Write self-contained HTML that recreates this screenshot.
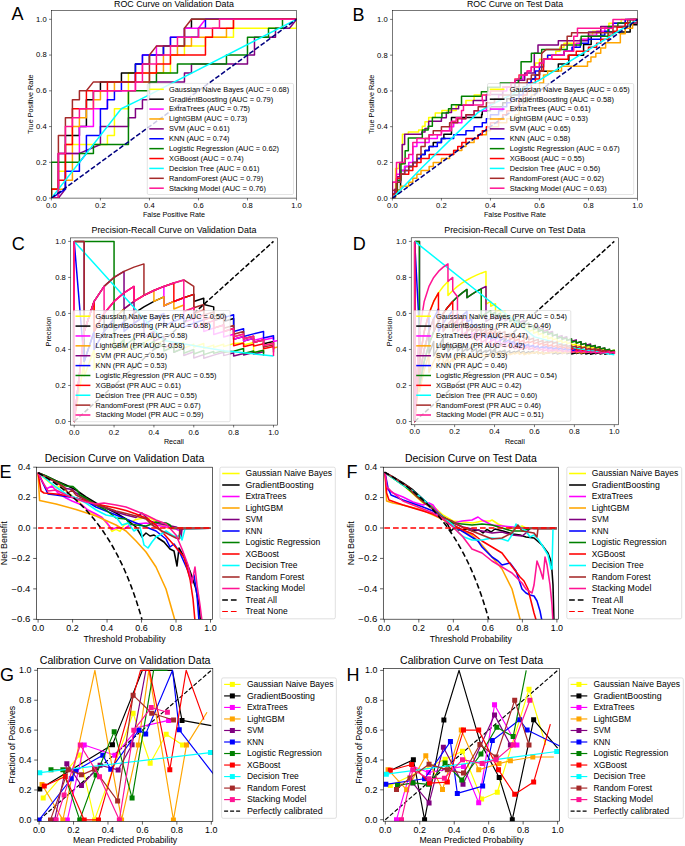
<!DOCTYPE html>
<html><head><meta charset="utf-8"><style>
html,body{margin:0;padding:0;background:#fff;}
svg{display:block;}
text{font-family:"Liberation Sans",sans-serif;}
</style></head><body>
<svg width="685" height="846" viewBox="0 0 685 846" font-family="Liberation Sans, sans-serif">
<rect width="685" height="846" fill="#fff"/>
<defs>
<clipPath id="cA"><rect x="51.4" y="10.4" width="245.1" height="187.7"/></clipPath>
<clipPath id="cB"><rect x="392.4" y="10.6" width="245.1" height="187.6"/></clipPath>
<clipPath id="cC"><rect x="70.5" y="237.9" width="206.8" height="187.2"/></clipPath>
<clipPath id="cD"><rect x="411.2" y="237.8" width="207.3" height="187"/></clipPath>
<clipPath id="cE"><rect x="36.5" y="467.2" width="176" height="152.1"/></clipPath>
<clipPath id="cF"><rect x="383.3" y="467.2" width="175.1" height="152"/></clipPath>
<clipPath id="cG"><rect x="37.5" y="668.3" width="175.3" height="153"/></clipPath>
<clipPath id="cH"><rect x="383.5" y="668.4" width="176.1" height="152.8"/></clipPath>
</defs>
<g clip-path="url(#cA)">
<polyline points="51.4,198.1 51.4,189.16 58.4,189.16 58.4,171.28 65.41,171.28 65.41,144.46 107.42,144.46 107.42,135.52 114.43,135.52 114.43,108.7 128.43,108.7 128.43,72.94 170.45,72.94 170.45,55.06 184.45,55.06 184.45,46.12 205.46,46.12 205.46,37.18 233.47,37.18 233.47,28.24 296.5,28.24 296.5,19.3" fill="none" stroke="#ffff00" stroke-width="1.5" stroke-linejoin="round"/>
<polyline points="51.4,198.1 51.4,189.16 58.4,189.16 58.4,153.4 65.41,153.4 65.41,135.52 79.41,135.52 79.41,126.58 86.41,126.58 86.41,99.76 93.42,99.76 93.42,90.82 100.42,90.82 100.42,81.88 121.43,81.88 121.43,72.94 135.43,72.94 135.43,64 149.44,64 149.44,55.06 163.45,55.06 163.45,46.12 184.45,46.12 184.45,28.24 191.46,28.24 191.46,19.3 296.5,19.3" fill="none" stroke="#000000" stroke-width="1.5" stroke-linejoin="round"/>
<polyline points="51.4,198.1 58.4,198.1 58.4,153.4 79.41,153.4 79.41,126.58 93.42,126.58 93.42,108.7 107.42,108.7 107.42,90.82 135.43,90.82 135.43,72.94 142.44,72.94 142.44,55.06 156.44,55.06 156.44,46.12 170.45,46.12 170.45,37.18 184.45,37.18 184.45,28.24 198.46,28.24 205.46,19.3 296.5,19.3" fill="none" stroke="#ff00ff" stroke-width="1.5" stroke-linejoin="round"/>
<polyline points="51.4,198.1 51.4,189.16 65.41,189.16 65.41,180.22 72.41,180.22 72.41,126.58 79.41,126.58 79.41,117.64 86.41,117.64 86.41,108.7 93.42,108.7 93.42,99.76 100.42,99.76 100.42,90.82 114.43,90.82 114.43,81.88 149.44,81.88 149.44,72.94 163.45,72.94 163.45,55.06 177.45,55.06 177.45,46.12 191.46,46.12 191.46,37.18 226.47,37.18 226.47,28.24 233.47,28.24 233.47,19.3 296.5,19.3" fill="none" stroke="#ffa500" stroke-width="1.5" stroke-linejoin="round"/>
<polyline points="51.4,198.1 58.4,198.1 65.41,189.16 65.41,153.4 79.41,153.4 100.42,144.46 100.42,126.58 128.43,126.58 128.43,117.64 135.43,117.64 135.43,108.7 142.44,108.7 142.44,99.76 149.44,99.76 149.44,81.88 184.45,81.88 184.45,72.94 191.46,72.94 191.46,64 247.48,64 247.48,55.06 254.48,55.06 254.48,37.18 275.49,37.18 275.49,28.24 289.5,28.24 296.5,19.3" fill="none" stroke="#800080" stroke-width="1.5" stroke-linejoin="round"/>
<polyline points="51.4,198.1 65.41,189.16 65.41,171.28 79.41,171.28 79.41,162.34 86.41,153.4 86.41,135.52 100.42,135.52 100.42,108.7 107.42,108.7 107.42,99.76 114.43,99.76 114.43,90.82 121.43,90.82 121.43,81.88 135.43,81.88 135.43,64 142.44,64 142.44,55.06 163.45,55.06 163.45,46.12 170.45,46.12 170.45,37.18 198.46,37.18 198.46,28.24 205.46,28.24 205.46,19.3 296.5,19.3" fill="none" stroke="#0000ff" stroke-width="1.5" stroke-linejoin="round"/>
<polyline points="51.4,198.1 51.4,162.34 79.41,162.34 79.41,153.4 93.42,153.4 93.42,144.46 128.43,144.46 128.43,90.82 149.44,90.82 149.44,81.88 156.44,81.88 156.44,72.94 177.45,72.94 177.45,64 226.47,64 226.47,55.06 247.48,55.06 247.48,37.18 268.49,37.18 268.49,28.24 282.49,28.24 282.49,19.3 296.5,19.3" fill="none" stroke="#008000" stroke-width="1.5" stroke-linejoin="round"/>
<polyline points="51.4,198.1 51.4,189.16 58.4,189.16 58.4,180.22 65.41,180.22 65.41,144.46 72.41,144.46 72.41,108.7 86.41,108.7 86.41,90.82 107.42,90.82 107.42,81.88 135.43,81.88 135.43,72.94 156.44,72.94 156.44,64 170.45,64 170.45,55.06 205.46,55.06 205.46,37.18 212.47,37.18 212.47,28.24 233.47,28.24 233.47,19.3 296.5,19.3" fill="none" stroke="#ff0000" stroke-width="1.5" stroke-linejoin="round"/>
<polyline points="51.4,198.1 121.25,108.7 139.39,99.94 296.5,19.3" fill="none" stroke="#00ffff" stroke-width="1.5" stroke-linejoin="round"/>
<polyline points="51.4,198.1 58.4,198.1 58.4,135.52 65.41,135.52 65.41,117.64 72.41,117.64 72.41,99.76 79.41,99.76 79.41,90.82 86.41,90.82 93.42,81.88 149.44,81.88 149.44,55.06 156.44,46.12 184.45,46.12 184.45,28.24 191.46,19.3 296.5,19.3" fill="none" stroke="#a52a2a" stroke-width="1.5" stroke-linejoin="round"/>
<polyline points="51.4,198.1 58.4,198.1 58.4,153.4 65.41,153.4 65.41,126.58 72.41,126.58 72.41,117.64 79.41,117.64 79.41,108.7 93.42,108.7 93.42,90.82 135.43,90.82 135.43,81.88 142.44,81.88 142.44,64 156.44,64 156.44,55.06 170.45,55.06 170.45,46.12 177.45,46.12 177.45,37.18 198.46,37.18 198.46,28.24 219.47,28.24 219.47,19.3 296.5,19.3" fill="none" stroke="#ff1493" stroke-width="1.5" stroke-linejoin="round"/>
<polyline points="51.4,198.1 296.5,19.3" fill="none" stroke="#000080" stroke-width="1.5" stroke-linejoin="round" stroke-dasharray="4.9 2.1"/>
</g>
<rect x="51.4" y="10.4" width="245.1" height="187.7" fill="none" stroke="#000" stroke-width="0.53"/>
<path d="M51.4 198.1v2.33M100.42 198.1v2.33M149.44 198.1v2.33M198.46 198.1v2.33M247.48 198.1v2.33M296.5 198.1v2.33M51.4 198.1h-2.33M51.4 162.34h-2.33M51.4 126.58h-2.33M51.4 90.82h-2.33M51.4 55.06h-2.33M51.4 19.3h-2.33" stroke="#000" stroke-width="0.53" fill="none"/>
<text x="46.1" y="207.63" font-size="6.94" fill="#000" textLength="10.61" lengthAdjust="spacingAndGlyphs">0.0</text>
<text x="95.12" y="207.63" font-size="6.94" fill="#000" textLength="10.61" lengthAdjust="spacingAndGlyphs">0.2</text>
<text x="144.14" y="207.63" font-size="6.94" fill="#000" textLength="10.61" lengthAdjust="spacingAndGlyphs">0.4</text>
<text x="193.16" y="207.63" font-size="6.94" fill="#000" textLength="10.61" lengthAdjust="spacingAndGlyphs">0.6</text>
<text x="242.18" y="207.63" font-size="6.94" fill="#000" textLength="10.61" lengthAdjust="spacingAndGlyphs">0.8</text>
<text x="291.2" y="207.63" font-size="6.94" fill="#000" textLength="10.61" lengthAdjust="spacingAndGlyphs">1.0</text>
<text x="36.12" y="200.53" font-size="6.94" fill="#000" textLength="10.61" lengthAdjust="spacingAndGlyphs">0.0</text>
<text x="36.12" y="164.77" font-size="6.94" fill="#000" textLength="10.61" lengthAdjust="spacingAndGlyphs">0.2</text>
<text x="36.12" y="129.01" font-size="6.94" fill="#000" textLength="10.61" lengthAdjust="spacingAndGlyphs">0.4</text>
<text x="36.12" y="93.25" font-size="6.94" fill="#000" textLength="10.61" lengthAdjust="spacingAndGlyphs">0.6</text>
<text x="36.12" y="57.49" font-size="6.94" fill="#000" textLength="10.61" lengthAdjust="spacingAndGlyphs">0.8</text>
<text x="36.12" y="21.73" font-size="6.94" fill="#000" textLength="10.61" lengthAdjust="spacingAndGlyphs">1.0</text>
<text x="142.95" y="217.2" font-size="6.94" fill="#000" textLength="61.99" lengthAdjust="spacingAndGlyphs">False Positive Rate</text>
<text x="32.6" y="104.25" font-size="6.94" fill="#000" text-anchor="middle" textLength="59.41" lengthAdjust="spacingAndGlyphs" transform="rotate(-90 32.6 104.25)">True Positive Rate</text>
<text x="114.03" y="6.9" font-size="8.72" fill="#000" textLength="119.85" lengthAdjust="spacingAndGlyphs">ROC Curve on Validation Data</text>
<rect x="147.3" y="83.4" width="146.2" height="111.1" rx="1.33" fill="#fff" fill-opacity="0.8" stroke="#cccccc" stroke-width="0.53"/>
<path d="M149.3 89.3H163.8" stroke="#ffff00" stroke-width="1.5"/>
<text x="169" y="91.7" font-size="6.94" fill="#000" textLength="120.12" lengthAdjust="spacingAndGlyphs">Gaussian Naive Bayes (AUC = 0.68)</text>
<path d="M149.3 99.19H163.8" stroke="#000000" stroke-width="1.5"/>
<text x="169" y="101.59" font-size="6.94" fill="#000" textLength="104.28" lengthAdjust="spacingAndGlyphs">GradientBoosting (AUC = 0.79)</text>
<path d="M149.3 109.08H163.8" stroke="#ff00ff" stroke-width="1.5"/>
<text x="169" y="111.48" font-size="6.94" fill="#000" textLength="81.09" lengthAdjust="spacingAndGlyphs">ExtraTrees (AUC = 0.75)</text>
<path d="M149.3 118.97H163.8" stroke="#ffa500" stroke-width="1.5"/>
<text x="169" y="121.37" font-size="6.94" fill="#000" textLength="78.25" lengthAdjust="spacingAndGlyphs">LightGBM (AUC = 0.73)</text>
<path d="M149.3 128.86H163.8" stroke="#800080" stroke-width="1.5"/>
<text x="169" y="131.26" font-size="6.94" fill="#000" textLength="60.66" lengthAdjust="spacingAndGlyphs">SVM (AUC = 0.61)</text>
<path d="M149.3 138.75H163.8" stroke="#0000ff" stroke-width="1.5"/>
<text x="169" y="141.15" font-size="6.94" fill="#000" textLength="60.46" lengthAdjust="spacingAndGlyphs">KNN (AUC = 0.74)</text>
<path d="M149.3 148.64H163.8" stroke="#008000" stroke-width="1.5"/>
<text x="169" y="151.04" font-size="6.94" fill="#000" textLength="110.09" lengthAdjust="spacingAndGlyphs">Logistic Regression (AUC = 0.62)</text>
<path d="M149.3 158.53H163.8" stroke="#ff0000" stroke-width="1.5"/>
<text x="169" y="160.93" font-size="6.94" fill="#000" textLength="74.67" lengthAdjust="spacingAndGlyphs">XGBoost (AUC = 0.74)</text>
<path d="M149.3 168.42H163.8" stroke="#00ffff" stroke-width="1.5"/>
<text x="169" y="170.82" font-size="6.94" fill="#000" textLength="90.52" lengthAdjust="spacingAndGlyphs">Decision Tree (AUC = 0.61)</text>
<path d="M149.3 178.31H163.8" stroke="#a52a2a" stroke-width="1.5"/>
<text x="169" y="180.71" font-size="6.94" fill="#000" textLength="94.19" lengthAdjust="spacingAndGlyphs">RandomForest (AUC = 0.79)</text>
<path d="M149.3 188.2H163.8" stroke="#ff1493" stroke-width="1.5"/>
<text x="169" y="190.6" font-size="6.94" fill="#000" textLength="97.03" lengthAdjust="spacingAndGlyphs">Stacking Model (AUC = 0.76)</text>
<text x="11.6" y="19.9" font-size="18" fill="#000">A</text>
<g clip-path="url(#cB)">
<polyline points="392.4,198.2 395.59,198.2 395.59,168.52 399.02,168.52 399.02,164.23 402.45,164.23 402.45,134.19 408.33,134.19 408.33,132.04 418.63,132.04 418.63,129.9 422.3,129.9 422.3,126.14 425,126.14 425,121.85 428.67,121.85 428.67,117.56 435.29,117.56 435.29,113.09 441.91,113.09 441.91,110.59 456.13,110.59 456.13,105.22 465.93,105.22 465.93,100.58 473.28,100.58 474.1,100.58 474.1,98.87 474.1,94.89 490.44,94.89 490.44,90.92 502.69,90.92 502.69,86.95 510.87,86.95 510.87,82.97 514.95,82.97 514.95,79 519.03,79 519.03,75.03 527.21,75.03 527.21,71.05 531.29,71.05 531.29,67.08 535.38,67.08 535.38,63.11 539.46,63.11 539.46,59.13 547.63,59.13 547.63,55.16 555.8,55.16 555.8,51.19 559.88,51.19 559.88,47.21 563.97,47.21 563.97,43.24 580.31,43.24 580.31,39.27 588.48,39.27 588.48,35.29 592.57,35.29 592.57,31.32 600.74,31.32 600.74,27.35 608.9,27.35 608.9,23.37 621.16,23.37 621.16,19.4 637.5,19.4" fill="none" stroke="#ffff00" stroke-width="1.5" stroke-linejoin="round"/>
<polyline points="392.4,198.2 392.4,194.23 396.48,194.23 396.48,190.25 400.57,190.25 400.57,170.39 404.65,170.39 404.65,166.41 412.82,166.41 412.82,162.44 416.91,162.44 416.91,158.47 421,158.47 421,154.49 425.08,154.49 425.08,150.52 429.16,150.52 429.16,146.55 433.25,146.55 433.25,142.57 441.42,142.57 441.42,138.6 445.5,138.6 443.87,138.6 443.87,138.66 443.87,134.19 451.47,134.19 451.47,117.56 481.62,117.56 481.62,114.16 482.27,114.16 482.27,114.76 482.27,110.79 490.44,110.79 490.44,106.81 502.69,106.81 502.69,102.84 506.78,102.84 506.78,98.87 510.87,98.87 510.87,94.89 519.03,94.89 519.03,90.92 523.12,90.92 523.12,86.95 527.21,86.95 527.21,82.97 531.29,82.97 531.29,79 535.38,79 535.38,75.03 539.46,75.03 539.46,71.05 543.54,71.05 541.67,71.05 541.67,71.25 558.33,71.25 558.33,64.1 568.87,64.1 568.87,55.16 583.58,55.16 583.58,44.43 591.18,44.43 591.18,36.21 600.74,36.21 600.74,31.92 630.15,31.92 630.15,24.76 637.5,24.76 637.5,19.4" fill="none" stroke="#000000" stroke-width="1.5" stroke-linejoin="round"/>
<polyline points="392.4,198.2 392.4,182.31 396.48,182.31 396.48,174.36 400.57,174.36 400.57,170.39 404.65,170.39 404.65,166.41 408.74,166.41 408.74,162.44 412.82,162.44 412.82,146.55 416.91,146.55 416.91,142.57 429.16,142.57 429.16,138.6 437.33,138.6 437.33,134.63 441.42,134.63 441.42,130.65 449.59,130.65 449.59,126.68 453.67,126.68 453.67,122.71 461.84,122.71 461.84,118.73 465.93,118.73 465.93,114.76 474.1,114.76 474.1,110.79 486.36,110.79 486.36,106.81 490.44,106.81 490.44,102.84 494.52,102.84 494.52,98.87 498.61,98.87 498.61,94.89 502.69,94.89 502.69,90.92 506.78,90.92 506.78,86.95 510.87,86.95 510.87,82.97 519.03,82.97 519.03,79 523.12,79 523.12,75.03 527.21,75.03 527.21,71.05 531.29,71.05 531.29,67.08 539.46,67.08 539.46,63.11 543.54,63.11 543.54,59.13 551.72,59.13 551.72,55.16 563.97,55.16 563.97,51.19 572.14,51.19 572.14,47.21 576.23,47.21 576.23,43.24 580.31,43.24 580.31,39.27 588.48,39.27 588.48,35.29 596.65,35.29 596.65,31.32 604.82,31.32 604.82,27.35 612.99,27.35 612.99,23.37 625.25,23.37 625.25,19.4 637.5,19.4" fill="none" stroke="#ff00ff" stroke-width="1.5" stroke-linejoin="round"/>
<polyline points="392.4,198.2 392.4,194.23 396.48,194.23 396.48,190.25 400.57,190.25 400.57,186.28 408.74,186.28 408.74,182.31 412.82,182.31 412.82,178.33 416.91,178.33 416.91,174.36 421,174.36 421,170.39 429.16,170.39 429.16,166.41 433.25,166.41 433.25,162.44 441.42,162.44 441.42,158.47 449.59,158.47 449.59,154.49 453.67,154.49 453.67,150.52 461.84,150.52 461.84,146.55 465.93,146.55 465.93,142.57 474.1,142.57 474.1,138.6 478.18,138.6 478.18,134.63 486.36,134.63 486.36,130.65 490.44,130.65 490.44,126.68 498.61,126.68 498.61,122.71 506.78,122.71 506.78,118.73 514.95,118.73 514.95,114.76 519.03,114.76 519.03,110.79 523.12,110.79 523.12,102.84 527.21,102.84 527.21,98.87 531.29,98.87 531.29,94.89 535.38,94.89 535.38,90.92 539.46,90.92 539.46,82.97 543.54,82.97 543.54,75.03 547.63,75.03 547.63,71.05 559.88,71.05 561.52,71.05 561.52,69.46 561.52,66.25 587.5,66.25 587.5,61.78 590.93,61.78 590.93,56.95 595.83,56.95 595.83,53.37 600.74,53.37 600.74,48.01 605.64,48.01 605.64,42.64 620.34,42.64 620.34,33.7 625.25,33.7 625.25,28.34 632.6,28.34 632.6,22.98 637.5,22.98 637.5,19.4" fill="none" stroke="#ffa500" stroke-width="1.5" stroke-linejoin="round"/>
<polyline points="392.4,198.2 394.85,198.2 394.85,189.26 397.3,189.26 397.3,176.74 399.75,176.74 399.75,162.44 402.2,162.44 402.2,144.56 404.65,144.56 404.65,134.19 421.81,134.19 421.81,132.04 425,132.04 425,128.47 428.67,128.47 428.67,121.32 441.42,121.32 441.42,117.74 446.32,117.74 446.32,112.38 451.47,112.38 451.47,108.8 458.58,108.8 458.58,105.22 473.28,105.22 473.28,100.58 486.27,100.58 486.27,94.5 502.69,94.5 502.69,87.34 514.95,87.34 514.95,80.19 524.75,80.19 524.75,73.04 534.31,73.04 534.31,53.37 537.99,53.37 537.99,44.97 558.33,44.97 558.33,40.86 588.48,40.86 588.48,31.92 600.74,31.92 600.74,26.55 625.25,26.55 625.25,22.98 637.5,22.98 637.5,19.4" fill="none" stroke="#800080" stroke-width="1.5" stroke-linejoin="round"/>
<polyline points="392.4,198.2 392.4,194.23 396.48,194.23 396.48,182.31 400.57,182.31 400.57,174.36 404.65,174.36 404.65,170.39 408.74,170.39 408.74,166.41 412.82,166.41 412.82,162.44 416.91,162.44 416.91,158.47 421,158.47 421,154.49 425.08,154.49 425.08,150.52 429.16,150.52 429.16,146.55 437.33,146.55 437.33,142.57 441.42,142.57 441.42,138.6 453.67,138.6 453.67,134.63 465.93,134.63 465.93,130.65 474.1,130.65 474.1,126.68 482.27,126.68 482.27,122.71 486.36,122.71 486.36,118.73 490.44,118.73 490.44,114.76 498.61,114.76 498.61,110.79 502.69,110.79 502.69,106.81 506.78,106.81 506.78,102.84 510.87,102.84 510.87,98.87 519.03,98.87 519.03,94.89 523.12,94.89 523.12,90.92 527.21,90.92 527.21,82.97 531.29,82.97 531.29,79 535.38,79 535.38,71.05 539.46,71.05 539.46,67.08 543.54,67.08 543.54,59.13 547.63,59.13 547.63,55.16 563.97,55.16 563.97,51.19 572.14,51.19 572.14,47.21 580.31,47.21 580.31,43.24 588.48,43.24 588.48,39.27 600.74,39.27 600.74,35.29 604.82,35.29 604.82,31.32 608.9,31.32 608.9,27.35 612.99,27.35 612.99,23.37 625.25,23.37 625.25,19.4 637.5,19.4" fill="none" stroke="#0000ff" stroke-width="1.5" stroke-linejoin="round"/>
<polyline points="392.4,198.2 392.4,194.27 397.3,194.27 397.3,180.32 400.98,180.32 400.98,163.69 405.15,163.69 405.15,150.82 408.33,150.82 408.33,137.94 422.3,137.94 422.3,129.9 428.18,129.9 428.18,126.14 432.35,126.14 432.35,117.56 441.91,117.56 441.91,113.09 448.53,113.09 448.53,108.8 451.47,108.8 451.47,104.69 461.52,104.69 461.52,96.28 481.37,96.28 481.37,91.81 487.99,91.81 487.99,87.34 500.24,87.34 500.24,83.05 518.38,83.05 518.38,78.58 521.08,78.58 521.08,61.78 531.37,61.78 531.37,53.37 541.67,53.37 541.67,49.44 567.16,49.44 567.16,44.97 581.13,44.97 581.13,36.21 608.09,36.21 608.09,26.55 617.89,26.55 617.89,22.98 630.15,22.98 630.15,19.4 637.5,19.4" fill="none" stroke="#008000" stroke-width="1.5" stroke-linejoin="round"/>
<polyline points="392.4,198.2 392.4,194.23 396.48,194.23 396.48,178.33 400.57,178.33 400.57,174.36 408.74,174.36 408.74,170.39 412.82,170.39 412.82,166.41 416.91,166.41 416.91,162.44 421,162.44 421,158.47 429.16,158.47 429.16,154.49 437.33,154.49 453.67,154.49 453.67,150.52 457.76,150.52 457.76,146.55 461.84,146.55 461.84,142.57 465.93,142.57 465.93,138.6 478.18,138.6 478.18,134.63 482.27,134.63 482.27,130.65 486.36,130.65 486.36,126.68 490.44,126.68 490.44,122.71 498.61,122.71 498.61,118.73 502.69,118.73 502.69,114.76 506.78,114.76 506.78,110.79 514.95,110.79 514.95,106.81 519.03,106.81 519.03,98.87 523.12,98.87 523.12,94.89 527.21,94.89 527.21,90.92 531.29,90.92 531.29,82.97 535.38,82.97 535.38,79 539.46,79 539.46,71.05 543.54,71.05 543.54,59.13 547.63,59.13 568.06,59.13 568.06,55.16 576.23,55.16 576.23,51.19 588.48,51.19 588.48,47.21 596.65,47.21 596.65,43.24 600.74,43.24 600.74,39.27 608.9,39.27 608.9,35.29 612.99,35.29 612.99,31.32 617.08,31.32 617.08,27.35 625.25,27.35 625.25,23.37 633.41,23.37 633.41,19.4 637.5,19.4" fill="none" stroke="#ff0000" stroke-width="1.5" stroke-linejoin="round"/>
<polyline points="392.4,198.2 421.81,167.8 478.18,112.38 490.44,105.22 539.46,80.19 637.5,19.4" fill="none" stroke="#00ffff" stroke-width="1.5" stroke-linejoin="round"/>
<polyline points="392.4,198.2 392.4,190.25 396.48,190.25 396.48,182.31 400.57,182.31 400.57,174.36 404.65,174.36 404.65,170.39 408.74,170.39 408.74,166.41 412.82,166.41 412.82,162.44 416.91,162.44 416.91,154.49 421,154.49 421,146.55 425.08,146.55 425.08,138.6 429.16,138.6 429.16,134.63 433.25,134.63 433.25,130.65 441.42,130.65 441.42,126.68 449.59,126.68 449.59,122.71 457.76,122.71 457.76,118.73 465.93,118.73 465.93,114.76 474.1,114.76 474.1,110.79 478.18,110.79 478.18,106.81 486.36,106.81 486.36,102.84 494.52,102.84 494.52,98.87 502.69,98.87 502.69,94.89 510.87,94.89 510.87,90.92 514.95,90.92 514.95,86.95 519.03,86.95 519.03,82.97 527.21,82.97 527.21,79 531.29,79 531.29,75.03 539.46,75.03 539.46,71.05 543.54,71.05 541.67,71.05 541.67,71.25 541.67,53.37 546.32,49.44 561.27,49.44 561.27,44.97 567.16,44.97 567.16,36.21 571.57,36.21 571.57,32.63 612.99,32.63 612.99,26.55 627.7,26.55 627.7,19.4 637.5,19.4" fill="none" stroke="#a52a2a" stroke-width="1.5" stroke-linejoin="round"/>
<polyline points="392.4,198.2 392.4,182.31 396.48,182.31 396.48,166.41 396.48,162.44 404.65,162.44 404.65,158.47 408.74,158.47 408.74,154.49 412.82,154.49 412.82,142.57 416.91,142.57 416.91,138.6 429.16,138.6 429.16,134.63 441.42,134.63 441.42,130.65 449.59,130.65 451.47,130.65 451.47,130.26 451.47,121.32 456.13,121.32 456.13,117.74 461.52,117.74 461.52,110.59 463.48,110.59 463.48,105.05 483.09,105.05 483.09,100.58 482.27,100.58 482.27,98.87 482.27,94.89 490.44,94.89 490.44,90.92 502.69,90.92 502.69,86.95 510.87,86.95 510.87,82.97 514.95,82.97 514.95,79 519.03,79 519.03,75.03 527.21,75.03 527.21,71.05 531.29,71.05 531.29,67.08 539.46,67.08 539.46,63.11 543.54,63.11 543.54,59.13 551.72,59.13 551.72,55.16 563.97,55.16 563.97,51.19 572.14,51.19 573.77,51.19 573.77,49.44 573.77,36.21 577.45,36.21 577.45,28.34 612.99,28.34 612.99,19.4 637.5,19.4" fill="none" stroke="#ff1493" stroke-width="1.5" stroke-linejoin="round"/>
<polyline points="392.4,198.2 637.5,19.4" fill="none" stroke="#000080" stroke-width="1.5" stroke-linejoin="round" stroke-dasharray="4.9 2.1"/>
</g>
<rect x="392.4" y="10.6" width="245.1" height="187.6" fill="none" stroke="#000" stroke-width="0.53"/>
<path d="M392.4 198.2v2.33M441.42 198.2v2.33M490.44 198.2v2.33M539.46 198.2v2.33M588.48 198.2v2.33M637.5 198.2v2.33M392.4 198.2h-2.33M392.4 162.44h-2.33M392.4 126.68h-2.33M392.4 90.92h-2.33M392.4 55.16h-2.33M392.4 19.4h-2.33" stroke="#000" stroke-width="0.53" fill="none"/>
<text x="387.1" y="207.73" font-size="6.94" fill="#000" textLength="10.61" lengthAdjust="spacingAndGlyphs">0.0</text>
<text x="436.12" y="207.73" font-size="6.94" fill="#000" textLength="10.61" lengthAdjust="spacingAndGlyphs">0.2</text>
<text x="485.14" y="207.73" font-size="6.94" fill="#000" textLength="10.61" lengthAdjust="spacingAndGlyphs">0.4</text>
<text x="534.16" y="207.73" font-size="6.94" fill="#000" textLength="10.61" lengthAdjust="spacingAndGlyphs">0.6</text>
<text x="583.18" y="207.73" font-size="6.94" fill="#000" textLength="10.61" lengthAdjust="spacingAndGlyphs">0.8</text>
<text x="632.2" y="207.73" font-size="6.94" fill="#000" textLength="10.61" lengthAdjust="spacingAndGlyphs">1.0</text>
<text x="377.12" y="200.63" font-size="6.94" fill="#000" textLength="10.61" lengthAdjust="spacingAndGlyphs">0.0</text>
<text x="377.12" y="164.87" font-size="6.94" fill="#000" textLength="10.61" lengthAdjust="spacingAndGlyphs">0.2</text>
<text x="377.12" y="129.11" font-size="6.94" fill="#000" textLength="10.61" lengthAdjust="spacingAndGlyphs">0.4</text>
<text x="377.12" y="93.35" font-size="6.94" fill="#000" textLength="10.61" lengthAdjust="spacingAndGlyphs">0.6</text>
<text x="377.12" y="57.59" font-size="6.94" fill="#000" textLength="10.61" lengthAdjust="spacingAndGlyphs">0.8</text>
<text x="377.12" y="21.83" font-size="6.94" fill="#000" textLength="10.61" lengthAdjust="spacingAndGlyphs">1.0</text>
<text x="483.95" y="217.3" font-size="6.94" fill="#000" textLength="61.99" lengthAdjust="spacingAndGlyphs">False Positive Rate</text>
<text x="373.6" y="104.4" font-size="6.94" fill="#000" text-anchor="middle" textLength="59.41" lengthAdjust="spacingAndGlyphs" transform="rotate(-90 373.6 104.4)">True Positive Rate</text>
<text x="466.91" y="6.9" font-size="8.72" fill="#000" textLength="96.08" lengthAdjust="spacingAndGlyphs">ROC Curve on Test Data</text>
<rect x="487.5" y="83.5" width="146.2" height="111" rx="1.33" fill="#fff" fill-opacity="0.8" stroke="#cccccc" stroke-width="0.53"/>
<path d="M489.8 89.3H504.5" stroke="#ffff00" stroke-width="1.5"/>
<text x="509.7" y="91.7" font-size="6.94" fill="#000" textLength="120.12" lengthAdjust="spacingAndGlyphs">Gaussian Naive Bayes (AUC = 0.65)</text>
<path d="M489.8 99.19H504.5" stroke="#000000" stroke-width="1.5"/>
<text x="509.7" y="101.59" font-size="6.94" fill="#000" textLength="104.28" lengthAdjust="spacingAndGlyphs">GradientBoosting (AUC = 0.58)</text>
<path d="M489.8 109.08H504.5" stroke="#ff00ff" stroke-width="1.5"/>
<text x="509.7" y="111.48" font-size="6.94" fill="#000" textLength="81.09" lengthAdjust="spacingAndGlyphs">ExtraTrees (AUC = 0.61)</text>
<path d="M489.8 118.97H504.5" stroke="#ffa500" stroke-width="1.5"/>
<text x="509.7" y="121.37" font-size="6.94" fill="#000" textLength="78.25" lengthAdjust="spacingAndGlyphs">LightGBM (AUC = 0.53)</text>
<path d="M489.8 128.86H504.5" stroke="#800080" stroke-width="1.5"/>
<text x="509.7" y="131.26" font-size="6.94" fill="#000" textLength="60.66" lengthAdjust="spacingAndGlyphs">SVM (AUC = 0.65)</text>
<path d="M489.8 138.75H504.5" stroke="#0000ff" stroke-width="1.5"/>
<text x="509.7" y="141.15" font-size="6.94" fill="#000" textLength="60.46" lengthAdjust="spacingAndGlyphs">KNN (AUC = 0.58)</text>
<path d="M489.8 148.64H504.5" stroke="#008000" stroke-width="1.5"/>
<text x="509.7" y="151.04" font-size="6.94" fill="#000" textLength="110.09" lengthAdjust="spacingAndGlyphs">Logistic Regression (AUC = 0.67)</text>
<path d="M489.8 158.53H504.5" stroke="#ff0000" stroke-width="1.5"/>
<text x="509.7" y="160.93" font-size="6.94" fill="#000" textLength="74.67" lengthAdjust="spacingAndGlyphs">XGBoost (AUC = 0.55)</text>
<path d="M489.8 168.42H504.5" stroke="#00ffff" stroke-width="1.5"/>
<text x="509.7" y="170.82" font-size="6.94" fill="#000" textLength="90.52" lengthAdjust="spacingAndGlyphs">Decision Tree (AUC = 0.56)</text>
<path d="M489.8 178.31H504.5" stroke="#a52a2a" stroke-width="1.5"/>
<text x="509.7" y="180.71" font-size="6.94" fill="#000" textLength="94.19" lengthAdjust="spacingAndGlyphs">RandomForest (AUC = 0.62)</text>
<path d="M489.8 188.2H504.5" stroke="#ff1493" stroke-width="1.5"/>
<text x="509.7" y="190.6" font-size="6.94" fill="#000" textLength="97.03" lengthAdjust="spacingAndGlyphs">Stacking Model (AUC = 0.63)</text>
<text x="352.6" y="20.8" font-size="18" fill="#000">B</text>
<g clip-path="url(#cC)">
<polyline points="74.2,241.4 74.2,421.5 74.2,421.5 84.17,361.47 84.17,376.48 94.13,349.46 94.13,361.47 94.13,370.04 104.09,353.96 114.06,341.46 114.06,349.46 124.03,339.64 124.03,346.46 124.03,352.23 133.99,344.31 133.99,349.46 143.95,342.71 153.92,336.75 153.92,341.46 153.92,345.67 163.88,340.45 163.88,344.31 163.88,347.82 173.85,343.2 173.85,346.46 183.81,342.26 183.81,345.3 183.81,348.13 193.78,344.31 193.78,346.98 203.75,343.46 203.75,345.97 203.75,348.33 213.71,345.09 213.71,347.34 223.68,344.31 223.68,346.46 233.64,343.62 243.61,342.99 243.61,344.96 253.57,342.43 253.57,344.31 253.57,346.11 253.57,347.82 253.57,349.46 253.57,351.03 253.57,352.53 263.54,350.21 263.54,351.67" fill="none" stroke="#ffff00" stroke-width="1.5" stroke-linejoin="round"/>
<polyline points="74.2,241.4 74.2,421.5 84.17,331.45 84.17,361.47 94.13,331.45 104.09,313.44 104.09,331.45 114.06,318.59 124.03,308.94 124.03,321.44 133.99,313.44 143.95,306.89 153.92,301.43 163.88,296.82 163.88,305.72 173.85,301.43 183.81,297.68 193.78,294.37 193.78,301.43 203.75,298.27 203.75,304.44 213.71,306.89 213.71,311.87 213.71,316.44 223.68,313.44 223.68,317.6 223.68,321.44 233.64,318.59 233.64,322.13 233.64,325.45 233.64,328.55 233.64,331.45 233.64,334.18 233.64,336.75 233.64,339.17 243.61,336.45 243.61,338.75 243.61,340.93 253.57,338.38 253.57,340.45 253.57,342.43 263.54,340.03 263.54,341.92 263.54,343.73 273.5,341.46 273.5,343.2 273.5,344.86" fill="none" stroke="#000000" stroke-width="1.5" stroke-linejoin="round"/>
<polyline points="74.2,241.4 74.2,421.5 84.17,331.45 94.13,301.43 94.13,331.45 104.09,313.44 114.06,301.43 124.03,292.86 133.99,286.43 133.99,301.43 143.95,295.43 153.92,290.52 163.88,286.43 163.88,296.82 163.88,305.72 173.85,301.43 183.81,297.68 183.81,304.96 183.81,311.44 183.81,317.23 183.81,322.44 193.78,318.59 193.78,323.26 193.78,327.53 203.75,323.95 203.75,327.85 203.75,331.45 213.71,328.11 213.71,331.45 213.71,334.56 223.68,331.45 223.68,334.35 223.68,337.08 233.64,334.18 233.64,336.75 233.64,339.17 243.61,336.45 243.61,338.75 243.61,340.93 253.57,338.38 253.57,340.45 263.54,338.04 263.54,340.03 273.5,337.73 273.5,339.64 273.5,341.46 283.47,339.28 283.47,341.03 283.47,342.71" fill="none" stroke="#ff00ff" stroke-width="1.5" stroke-linejoin="round"/>
<polyline points="74.2,241.4 74.2,421.5 84.17,331.45 94.13,301.43 94.13,331.45 94.13,349.46 104.09,331.45 114.06,318.59 124.03,308.94 133.99,301.43 143.95,295.43 153.92,290.52 153.92,301.43 163.88,296.82 163.88,305.72 173.85,301.43 173.85,308.94 183.81,304.96 183.81,311.44 193.78,307.75 193.78,313.44 193.78,318.59 203.75,315.08 203.75,319.7 203.75,323.95 213.71,320.64 213.71,324.52 213.71,328.11 223.68,325.02 223.68,328.34 223.68,331.45 233.64,328.55 233.64,331.45 233.64,334.18 233.64,336.75 243.61,334.02 243.61,336.45 243.61,338.75 253.57,336.19 253.57,338.38 253.57,340.45 253.57,342.43 263.54,340.03 263.54,341.92 263.54,343.73 263.54,345.46 273.5,343.2 273.5,344.86 273.5,346.46 273.5,347.99 283.47,345.86 283.47,347.34 283.47,348.77" fill="none" stroke="#ffa500" stroke-width="1.5" stroke-linejoin="round"/>
<polyline points="74.2,241.4 84.17,241.4 84.17,331.45 94.13,301.43 104.09,286.43 114.06,277.42 124.03,271.42 124.03,292.86 124.03,308.94 133.99,301.43 133.99,313.44 133.99,323.26 143.95,316.44 143.95,324.52 143.95,331.45 143.95,337.45 153.92,331.45 153.92,336.75 153.92,341.46 163.88,336.19 163.88,340.45 163.88,344.31 163.88,347.82 173.85,343.2 173.85,346.46 173.85,349.46 173.85,352.23 183.81,348.13 183.81,350.75 183.81,353.19 183.81,355.46 193.78,351.78 193.78,353.96 193.78,356.01 193.78,357.94 203.75,354.61 203.75,356.46 203.75,358.22 213.71,355.15 223.68,352.23 223.68,353.96 223.68,355.61 233.64,352.89 233.64,354.49 233.64,356.01 243.61,353.46 243.61,354.94 253.57,352.53 253.57,353.96 263.54,351.67 263.54,353.06" fill="none" stroke="#800080" stroke-width="1.5" stroke-linejoin="round"/>
<polyline points="74.2,241.4 84.17,361.47 94.13,331.45 94.13,349.46 104.09,331.45 114.06,318.59 114.06,331.45 124.03,321.44 124.03,331.45 133.99,323.26 143.95,316.44 143.95,324.52 153.92,318.59 163.88,313.44 163.88,320.19 163.88,326.15 173.85,321.44 183.81,317.23 183.81,322.44 183.81,327.16 193.78,323.26 203.75,319.7 213.71,316.44 213.71,320.64 223.68,317.6 233.64,314.77 233.64,318.59 233.64,322.13 233.64,325.45 233.64,328.55 233.64,331.45 243.61,328.72 243.61,331.45 243.61,334.02 243.61,336.45 253.57,333.88 263.54,331.45 263.54,333.76 263.54,335.95 263.54,338.04 273.5,335.74 273.5,337.73 273.5,339.64" fill="none" stroke="#0000ff" stroke-width="1.5" stroke-linejoin="round"/>
<polyline points="74.2,241.4 84.17,241.4 94.13,241.4 104.09,241.4 114.06,241.4 114.06,277.42 114.06,301.43 114.06,318.59 114.06,331.45 114.06,341.46 114.06,349.46 124.03,339.64 124.03,346.46 133.99,338.38 133.99,344.31 133.99,349.46 143.95,342.71 143.95,347.34 153.92,341.46 153.92,345.67 153.92,349.46 163.88,344.31 163.88,347.82 163.88,351.03 173.85,346.46 173.85,349.46 173.85,352.23 183.81,348.13 183.81,350.75 183.81,353.19 193.78,349.46 193.78,351.78 193.78,353.96 203.75,350.55 203.75,352.64 203.75,354.61 213.71,351.46 213.71,353.35 223.68,350.41 223.68,352.23 233.64,351.22 243.61,348.6 243.61,350.3 243.61,351.92 243.61,353.46 253.57,351.03 253.57,352.53 263.54,350.21 263.54,351.67 263.54,353.06 263.54,354.4 263.54,355.69" fill="none" stroke="#008000" stroke-width="1.5" stroke-linejoin="round"/>
<polyline points="74.2,241.4 74.2,421.5 84.17,331.45 94.13,301.43 94.13,331.45 104.09,313.44 114.06,301.43 124.03,292.86 133.99,286.43 133.99,301.43 143.95,295.43 153.92,290.52 163.88,286.43 173.85,282.96 173.85,292.86 173.85,301.43 183.81,297.68 193.78,294.37 193.78,301.43 193.78,307.75 193.78,313.44 203.75,310.01 203.75,315.08 203.75,319.7 213.71,316.44 213.71,320.64 213.71,324.52 213.71,328.11 223.68,325.02 223.68,328.34 223.68,331.45 233.64,328.55 233.64,331.45 233.64,334.18 233.64,336.75 233.64,339.17 233.64,341.46 233.64,343.62 233.64,345.67 243.61,342.99 243.61,344.96 243.61,346.82 253.57,344.31 253.57,346.11 263.54,343.73 263.54,345.46 263.54,347.11 263.54,348.69 273.5,346.46 273.5,347.99 273.5,349.46" fill="none" stroke="#ff0000" stroke-width="1.5" stroke-linejoin="round"/>
<polyline points="74.2,241.4 163.88,340.45 223.68,350.72 273.5,355.94" fill="none" stroke="#00ffff" stroke-width="1.5" stroke-linejoin="round"/>
<polyline points="74.2,241.4 84.17,241.4 84.17,331.45 94.13,301.43 104.09,286.43 114.06,277.42 124.03,271.42 133.99,267.13 143.95,263.91 143.95,281.42 143.95,295.43 153.92,290.52 163.88,286.43 173.85,282.96 183.81,279.99 193.78,286.43 193.78,294.37 193.78,301.43 193.78,307.75 203.75,304.44 203.75,310.01 203.75,315.08 213.71,311.87 213.71,316.44 213.71,320.64 223.68,317.6 223.68,321.44 223.68,325.02 223.68,328.34 233.64,325.45 233.64,328.55 233.64,331.45 233.64,334.18 243.61,331.45 243.61,334.02 243.61,336.45 243.61,338.75 253.57,336.19 253.57,338.38 253.57,340.45 253.57,342.43 263.54,340.03 263.54,341.92 263.54,343.73 263.54,345.46 263.54,347.11 273.5,344.86 273.5,346.46 273.5,347.99 273.5,349.46 273.5,350.87 273.5,352.23" fill="none" stroke="#a52a2a" stroke-width="1.5" stroke-linejoin="round"/>
<polyline points="74.2,241.4 74.2,421.5 84.17,331.45 94.13,301.43 104.09,286.43 104.09,313.44 114.06,301.43 124.03,292.86 133.99,286.43 133.99,301.43 143.95,295.43 153.92,290.52 163.88,286.43 173.85,282.96 183.81,279.99 183.81,289.43 183.81,297.68 183.81,304.96 183.81,311.44 193.78,307.75 193.78,313.44 193.78,318.59 203.75,315.08 203.75,319.7 203.75,323.95 213.71,320.64 213.71,324.52 213.71,328.11 223.68,325.02 223.68,328.34 223.68,331.45 233.64,328.55 233.64,331.45 233.64,334.18 233.64,336.75 243.61,334.02 243.61,336.45 243.61,338.75 253.57,336.19 253.57,338.38 253.57,340.45 253.57,342.43 263.54,340.03 263.54,341.92 263.54,343.73 263.54,345.46 273.5,343.2 273.5,344.86 273.5,346.46 273.5,347.99 273.5,349.46 273.5,350.87 273.5,352.23 273.5,353.54 273.5,354.8 273.5,356.01" fill="none" stroke="#ff1493" stroke-width="1.5" stroke-linejoin="round"/>
<polyline points="74.2,421.5 273.5,241.4" fill="none" stroke="#000" stroke-width="1.5" stroke-linejoin="round" stroke-dasharray="4.9 2.1"/>
</g>
<rect x="70.5" y="237.9" width="206.8" height="187.2" fill="none" stroke="#000" stroke-width="0.53"/>
<path d="M74.2 425.1v2.33M114.06 425.1v2.33M153.92 425.1v2.33M193.78 425.1v2.33M233.64 425.1v2.33M273.5 425.1v2.33M70.5 421.5h-2.33M70.5 385.48h-2.33M70.5 349.46h-2.33M70.5 313.44h-2.33M70.5 277.42h-2.33M70.5 241.4h-2.33" stroke="#000" stroke-width="0.53" fill="none"/>
<text x="68.9" y="434.63" font-size="6.94" fill="#000" textLength="10.61" lengthAdjust="spacingAndGlyphs">0.0</text>
<text x="108.76" y="434.63" font-size="6.94" fill="#000" textLength="10.61" lengthAdjust="spacingAndGlyphs">0.2</text>
<text x="148.62" y="434.63" font-size="6.94" fill="#000" textLength="10.61" lengthAdjust="spacingAndGlyphs">0.4</text>
<text x="188.48" y="434.63" font-size="6.94" fill="#000" textLength="10.61" lengthAdjust="spacingAndGlyphs">0.6</text>
<text x="228.34" y="434.63" font-size="6.94" fill="#000" textLength="10.61" lengthAdjust="spacingAndGlyphs">0.8</text>
<text x="268.2" y="434.63" font-size="6.94" fill="#000" textLength="10.61" lengthAdjust="spacingAndGlyphs">1.0</text>
<text x="55.22" y="423.93" font-size="6.94" fill="#000" textLength="10.61" lengthAdjust="spacingAndGlyphs">0.0</text>
<text x="55.22" y="387.91" font-size="6.94" fill="#000" textLength="10.61" lengthAdjust="spacingAndGlyphs">0.2</text>
<text x="55.22" y="351.89" font-size="6.94" fill="#000" textLength="10.61" lengthAdjust="spacingAndGlyphs">0.4</text>
<text x="55.22" y="315.87" font-size="6.94" fill="#000" textLength="10.61" lengthAdjust="spacingAndGlyphs">0.6</text>
<text x="55.22" y="279.85" font-size="6.94" fill="#000" textLength="10.61" lengthAdjust="spacingAndGlyphs">0.8</text>
<text x="55.22" y="243.83" font-size="6.94" fill="#000" textLength="10.61" lengthAdjust="spacingAndGlyphs">1.0</text>
<text x="163.95" y="444.3" font-size="6.94" fill="#000" textLength="19.9" lengthAdjust="spacingAndGlyphs">Recall</text>
<text x="51.2" y="331.5" font-size="6.94" fill="#000" text-anchor="middle" textLength="29.76" lengthAdjust="spacingAndGlyphs" transform="rotate(-90 51.2 331.5)">Precision</text>
<text x="91.46" y="233.4" font-size="8.72" fill="#000" textLength="164.88" lengthAdjust="spacingAndGlyphs">Precision-Recall Curve on Validation Data</text>
<rect x="73" y="310.5" width="157.1" height="111.2" rx="1.33" fill="#fff" fill-opacity="0.8" stroke="#cccccc" stroke-width="0.53"/>
<path d="M75.5 316.2H90.4" stroke="#ffff00" stroke-width="1.5"/>
<text x="95.6" y="318.6" font-size="6.94" fill="#000" textLength="130.9" lengthAdjust="spacingAndGlyphs">Gaussian Naive Bayes (PR AUC = 0.50)</text>
<path d="M75.5 326.08H90.4" stroke="#000000" stroke-width="1.5"/>
<text x="95.6" y="328.48" font-size="6.94" fill="#000" textLength="115.06" lengthAdjust="spacingAndGlyphs">GradientBoosting (PR AUC = 0.58)</text>
<path d="M75.5 335.96H90.4" stroke="#ff00ff" stroke-width="1.5"/>
<text x="95.6" y="338.36" font-size="6.94" fill="#000" textLength="91.86" lengthAdjust="spacingAndGlyphs">ExtraTrees (PR AUC = 0.58)</text>
<path d="M75.5 345.84H90.4" stroke="#ffa500" stroke-width="1.5"/>
<text x="95.6" y="348.24" font-size="6.94" fill="#000" textLength="89.03" lengthAdjust="spacingAndGlyphs">LightGBM (PR AUC = 0.58)</text>
<path d="M75.5 355.72H90.4" stroke="#800080" stroke-width="1.5"/>
<text x="95.6" y="358.12" font-size="6.94" fill="#000" textLength="71.44" lengthAdjust="spacingAndGlyphs">SVM (PR AUC = 0.56)</text>
<path d="M75.5 365.6H90.4" stroke="#0000ff" stroke-width="1.5"/>
<text x="95.6" y="368" font-size="6.94" fill="#000" textLength="71.24" lengthAdjust="spacingAndGlyphs">KNN (PR AUC = 0.53)</text>
<path d="M75.5 375.48H90.4" stroke="#008000" stroke-width="1.5"/>
<text x="95.6" y="377.88" font-size="6.94" fill="#000" textLength="120.86" lengthAdjust="spacingAndGlyphs">Logistic Regression (PR AUC = 0.55)</text>
<path d="M75.5 385.36H90.4" stroke="#ff0000" stroke-width="1.5"/>
<text x="95.6" y="387.76" font-size="6.94" fill="#000" textLength="85.45" lengthAdjust="spacingAndGlyphs">XGBoost (PR AUC = 0.61)</text>
<path d="M75.5 395.24H90.4" stroke="#00ffff" stroke-width="1.5"/>
<text x="95.6" y="397.64" font-size="6.94" fill="#000" textLength="101.3" lengthAdjust="spacingAndGlyphs">Decision Tree (PR AUC = 0.55)</text>
<path d="M75.5 405.12H90.4" stroke="#a52a2a" stroke-width="1.5"/>
<text x="95.6" y="407.52" font-size="6.94" fill="#000" textLength="104.97" lengthAdjust="spacingAndGlyphs">RandomForest (PR AUC = 0.67)</text>
<path d="M75.5 415H90.4" stroke="#ff1493" stroke-width="1.5"/>
<text x="95.6" y="417.4" font-size="6.94" fill="#000" textLength="107.81" lengthAdjust="spacingAndGlyphs">Stacking Model (PR AUC = 0.59)</text>
<text x="11.8" y="250" font-size="18" fill="#000">C</text>
<g clip-path="url(#cD)">
<polyline points="414.7,241.4 414.7,421.5 414.7,421.5 419.45,361.47 424.2,331.45 428.96,313.44 433.71,301.43 438.46,292.86 443.21,286.43 447.97,281.42 447.97,295.43 452.72,290.52 457.47,286.43 462.22,282.96 466.98,279.99 471.73,277.42 476.48,275.17 481.23,273.18 485.99,271.42 485.99,279.32 485.99,286.43 485.99,292.86 485.99,298.7 485.99,304.04 490.74,301.43 490.74,306.24 495.49,303.74 495.49,308.1 495.49,312.15 500.24,309.71 500.24,313.44 505,311.12 505,314.57 505,317.81 509.75,315.56 509.75,318.59 509.75,321.44 514.5,319.28 514.5,321.97 514.5,324.52 519.25,322.44 519.25,324.86 519.25,327.16 524,325.17 524,327.36 524,329.45 528.76,327.53 528.76,329.53 528.76,331.45 533.51,329.61 533.51,331.45 533.51,333.22 538.26,331.45 538.26,333.15 538.26,334.79 543.01,333.09 543.01,334.67 543.01,336.19 543.01,337.66 547.77,336.03 547.77,337.45 547.77,338.83 552.52,337.26 552.52,338.6 552.52,339.89 557.27,338.38 557.27,339.64 557.27,340.86 557.27,342.04 562.02,340.59 562.02,341.74 562.02,342.86 566.78,341.46 566.78,342.55 566.78,343.62 571.53,342.26 571.53,343.3 571.53,344.31 571.53,345.3 576.28,343.99 576.28,344.96 576.28,345.9 581.03,344.63 581.03,345.55 581.03,346.46 581.03,347.34 585.79,346.11 585.79,346.98 585.79,347.82 590.54,346.63 590.54,347.46 590.54,348.27 595.29,347.11 595.29,347.91 595.29,348.69 595.29,349.46 600.04,348.33 600.04,349.09 600.04,349.83 604.8,348.73 604.8,349.46 604.8,350.17 604.8,350.87 609.55,349.81 609.55,350.5 609.55,351.18 614.3,350.14 614.3,350.81 614.3,351.46 614.3,352.1" fill="none" stroke="#ffff00" stroke-width="1.5" stroke-linejoin="round"/>
<polyline points="414.7,241.4 414.7,421.5 419.45,331.45 419.45,361.47 419.45,376.48 424.2,349.46 428.96,331.45 428.96,344.31 428.96,353.96 433.71,341.46 433.71,349.46 433.71,356.01 438.46,346.46 443.21,338.38 443.21,344.31 443.21,349.46 447.97,342.71 447.97,347.34 447.97,351.46 452.72,345.67 452.72,349.46 457.47,344.31 457.47,347.82 457.47,351.03 462.22,346.46 462.22,349.46 462.22,352.23 466.98,348.13 466.98,350.75 471.73,346.98 471.73,349.46 471.73,351.78 476.48,348.33 476.48,350.55 476.48,352.64 481.23,349.46 481.23,351.46 481.23,353.35 485.99,350.41 485.99,352.23 490.74,349.46 490.74,351.22 490.74,352.89 495.49,350.3 495.49,351.92 495.49,353.46 500.24,351.03 500.24,352.53 505,350.21 505,351.67 505,353.06 509.75,350.87 509.75,352.23 509.75,353.54 514.5,351.46 514.5,352.73 519.25,350.75 519.25,351.99 519.25,353.19 524,351.29 524,352.46 524,353.59 528.76,351.78 528.76,352.89 533.51,351.15 533.51,352.23 533.51,353.28 538.26,351.61 538.26,352.64 538.26,353.64 543.01,352.03 543.01,353.01 543.01,353.96 547.77,352.42 547.77,353.35 552.52,351.86 552.52,352.78 552.52,353.67 557.27,352.23 557.27,353.11 557.27,353.96 562.02,352.57 562.02,353.41 566.78,352.06 566.78,352.89 566.78,353.7 571.53,352.39 571.53,353.19 571.53,353.96 576.28,352.7 576.28,353.46 581.03,352.23 581.03,352.98 581.03,353.72 585.79,352.53 585.79,353.25 585.79,353.96 590.54,352.8 590.54,353.5 590.54,354.19 595.29,353.06 595.29,353.74 600.04,352.64 600.04,353.31 600.04,353.96 604.8,352.89 604.8,353.54 604.8,354.17 609.55,353.13 609.55,353.76 614.3,352.73 614.3,353.35 614.3,353.96" fill="none" stroke="#000000" stroke-width="1.5" stroke-linejoin="round"/>
<polyline points="414.7,241.4 414.7,421.5 414.7,421.5 419.45,361.47 419.45,376.48 424.2,349.46 428.96,331.45 433.71,318.59 433.71,331.45 438.46,321.44 443.21,313.44 443.21,323.26 443.21,331.45 447.97,324.52 452.72,318.59 457.47,313.44 457.47,320.19 457.47,326.15 462.22,321.44 466.98,317.23 466.98,322.44 466.98,327.16 466.98,331.45 471.73,327.53 471.73,331.45 471.73,335.05 476.48,331.45 476.48,334.79 476.48,337.88 481.23,334.56 481.23,337.45 485.99,334.35 485.99,337.08 485.99,339.64 490.74,336.75 490.74,339.17 490.74,341.46 495.49,338.75 495.49,340.93 495.49,342.99 500.24,340.45 500.24,342.43 500.24,344.31 505,341.92 505,343.73 509.75,341.46 509.75,343.2 509.75,344.86 514.5,342.71 514.5,344.31 514.5,345.86 519.25,343.81 519.25,345.3 519.25,346.74 524,344.79 524,346.19 524,347.53 528.76,345.67 528.76,346.98 533.51,345.19 533.51,346.46 533.51,347.69 538.26,345.97 538.26,347.17 538.26,348.33 543.01,346.69 543.01,347.82 543.01,348.92 547.77,347.34 547.77,348.42 547.77,349.46 552.52,347.94 552.52,348.96 552.52,349.95 557.27,348.49 557.27,349.46 562.02,348.04 562.02,348.99 562.02,349.92 566.78,348.55 566.78,349.46 566.78,350.35 571.53,349.02 571.53,349.89 571.53,350.75 576.28,349.46 576.28,350.3 576.28,351.12 581.03,349.87 581.03,350.67 585.79,349.46 585.79,350.25 585.79,351.03 590.54,349.85 590.54,350.61 590.54,351.36 595.29,350.21 595.29,350.95 595.29,351.67 600.04,350.55 600.04,351.26 600.04,351.96 604.8,350.87 604.8,351.56 609.55,350.5 609.55,351.18 609.55,351.84 614.3,350.81 614.3,351.46 614.3,352.1 614.3,352.73" fill="none" stroke="#ff00ff" stroke-width="1.5" stroke-linejoin="round"/>
<polyline points="414.7,241.4 414.7,421.5 414.7,421.5 414.7,421.5 419.45,376.48 419.45,385.48 419.45,391.48 424.2,370.04 428.96,353.96 428.96,361.47 428.96,367.47 428.96,372.38 433.71,361.47 438.46,352.23 438.46,357.18 438.46,361.47 443.21,353.96 443.21,357.94 443.21,361.47 443.21,364.63 447.97,358.47 447.97,361.47 447.97,364.2 452.72,358.86 452.72,361.47 457.47,356.66 457.47,359.16 462.22,354.8 462.22,357.18 462.22,359.4 466.98,355.46 466.98,357.59 466.98,359.59 471.73,356.01 471.73,357.94 476.48,354.61 476.48,356.46 481.23,353.35 481.23,355.15 481.23,356.85 485.99,353.96 485.99,355.61 485.99,357.18 490.74,354.49 490.74,356.01 495.49,353.46 495.49,354.94 500.24,352.53 500.24,353.96 500.24,355.34 505,353.06 505,354.4 505,355.69 509.75,353.54 509.75,354.8 514.5,352.73 514.5,353.96 519.25,351.99 519.25,353.19 519.25,354.34 524,352.46 524,353.59 524,354.69 528.76,352.89 528.76,353.96 533.51,352.23 533.51,353.28 538.26,351.61 538.26,352.64 538.26,353.64 543.01,352.03 543.01,353.01 543.01,353.96 547.77,352.42 547.77,353.35 552.52,351.86 552.52,352.78 557.27,351.33 557.27,352.23 557.27,353.11 562.02,351.71 562.02,352.57 562.02,353.41 566.78,352.06 566.78,352.89 571.53,351.58 571.53,352.39 576.28,351.12 576.28,351.92 576.28,352.7 581.03,351.46 581.03,352.23 581.03,352.98 585.79,351.78 585.79,352.53 590.54,351.36 590.54,352.09 595.29,350.95 595.29,351.67 595.29,352.37 600.04,351.26 600.04,351.96 600.04,352.64 604.8,351.56 604.8,352.23 609.55,351.18 609.55,351.84 614.3,350.81 614.3,351.46 614.3,352.1 614.3,352.73 614.3,353.35" fill="none" stroke="#ffa500" stroke-width="1.5" stroke-linejoin="round"/>
<polyline points="414.7,241.4 419.45,241.4 419.45,331.45 419.45,361.47 419.45,376.48 419.45,385.48 424.2,361.47 428.96,344.31 433.71,331.45 438.46,321.44 443.21,313.44 447.97,306.89 452.72,301.43 457.47,296.82 462.22,292.86 466.98,289.43 466.98,297.68 471.73,294.37 476.48,291.43 481.23,288.79 485.99,286.43 485.99,292.86 485.99,298.7 485.99,304.04 485.99,308.94 485.99,313.44 485.99,317.6 485.99,321.44 490.74,318.59 495.49,315.92 495.49,319.44 500.24,316.93 500.24,320.19 505,317.81 505,320.86 509.75,318.59 509.75,321.44 514.5,319.28 514.5,321.97 519.25,319.91 519.25,322.44 524,320.47 524,322.87 524,325.17 528.76,323.26 528.76,325.45 528.76,327.53 533.51,325.7 533.51,327.7 538.26,325.94 538.26,327.85 538.26,329.68 543.01,327.99 543.01,329.75 543.01,331.45 547.77,329.81 547.77,331.45 547.77,333.03 552.52,331.45 552.52,332.98 552.52,334.45 552.52,335.88 557.27,334.35 557.27,335.74 557.27,337.08 562.02,335.61 562.02,336.91 562.02,338.17 566.78,336.75 566.78,337.98 566.78,339.17 566.78,340.33 571.53,338.95 571.53,340.08 571.53,341.19 576.28,339.85 576.28,340.93 576.28,341.98 576.28,342.99 581.03,341.71 581.03,342.71 581.03,343.68 581.03,344.63 585.79,343.38 585.79,344.31 585.79,345.22 590.54,344.02 590.54,344.91 590.54,345.78 590.54,346.63 595.29,345.46 595.29,346.29 595.29,347.11 595.29,347.91 600.04,346.78 600.04,347.56 600.04,348.33 600.04,349.09 604.8,347.99 604.8,348.73 604.8,349.46 604.8,350.17 604.8,350.87 609.55,349.81 609.55,350.5 609.55,351.18 609.55,351.84 614.3,350.81 614.3,351.46 614.3,352.1" fill="none" stroke="#800080" stroke-width="1.5" stroke-linejoin="round"/>
<polyline points="414.7,241.4 419.45,331.45 419.45,361.47 424.2,331.45 428.96,313.44 428.96,331.45 433.71,318.59 438.46,308.94 438.46,321.44 438.46,331.45 443.21,323.26 447.97,316.44 452.72,310.67 452.72,318.59 452.72,325.45 457.47,320.19 462.22,315.56 466.98,311.44 466.98,317.23 466.98,322.44 471.73,318.59 471.73,323.26 471.73,327.53 476.48,323.95 476.48,327.85 476.48,331.45 481.23,328.11 481.23,331.45 481.23,334.56 485.99,331.45 485.99,334.35 485.99,337.08 490.74,334.18 490.74,336.75 490.74,339.17 495.49,336.45 495.49,338.75 500.24,336.19 500.24,338.38 500.24,340.45 505,338.04 505,340.03 505,341.92 509.75,339.64 509.75,341.46 509.75,343.2 514.5,341.03 514.5,342.71 514.5,344.31 519.25,342.26 519.25,343.81 519.25,345.3 524,343.34 524,344.79 524,346.19 528.76,344.31 528.76,345.67 528.76,346.98 533.51,345.19 533.51,346.46 533.51,347.69 538.26,345.97 538.26,347.17 538.26,348.33 543.01,346.69 543.01,347.82 547.77,346.23 547.77,347.34 547.77,348.42 552.52,346.89 552.52,347.94 552.52,348.96 557.27,347.49 557.27,348.49 557.27,349.46 562.02,348.04 562.02,348.99 562.02,349.92 566.78,348.55 566.78,349.46 566.78,350.35 571.53,349.02 571.53,349.89 571.53,350.75 576.28,349.46 576.28,350.3 576.28,351.12 581.03,349.87 581.03,350.67 581.03,351.46 585.79,350.25 585.79,351.03 585.79,351.78 590.54,350.61 590.54,351.36 595.29,350.21 595.29,350.95 595.29,351.67 600.04,350.55 600.04,351.26 600.04,351.96 604.8,350.87 604.8,351.56 604.8,352.23 609.55,351.18 609.55,351.84 609.55,352.49 614.3,351.46 614.3,352.1 614.3,352.73 614.3,353.35" fill="none" stroke="#0000ff" stroke-width="1.5" stroke-linejoin="round"/>
<polyline points="414.7,241.4 419.45,241.4 419.45,331.45 419.45,361.47 419.45,376.48 419.45,385.48 424.2,361.47 428.96,344.31 433.71,331.45 438.46,321.44 443.21,313.44 447.97,306.89 452.72,301.43 457.47,296.82 462.22,292.86 466.98,289.43 466.98,297.68 471.73,294.37 476.48,291.43 481.23,288.79 481.23,295.43 481.23,301.43 481.23,306.89 481.23,311.87 481.23,316.44 485.99,313.44 490.74,310.67 490.74,314.77 495.49,312.15 495.49,315.92 500.24,313.44 500.24,316.93 505,314.57 505,317.81 509.75,315.56 509.75,318.59 509.75,321.44 514.5,319.28 514.5,321.97 519.25,319.91 519.25,322.44 519.25,324.86 524,322.87 524,325.17 528.76,323.26 528.76,325.45 528.76,327.53 533.51,325.7 533.51,327.7 533.51,329.61 538.26,327.85 538.26,329.68 538.26,331.45 543.01,329.75 543.01,331.45 543.01,333.09 547.77,331.45 547.77,333.03 547.77,334.56 552.52,332.98 552.52,334.45 552.52,335.88 557.27,334.35 557.27,335.74 557.27,337.08 557.27,338.38 562.02,336.91 562.02,338.17 562.02,339.4 566.78,337.98 566.78,339.17 566.78,340.33 571.53,338.95 571.53,340.08 571.53,341.19 571.53,342.26 576.28,340.93 576.28,341.98 576.28,342.99 581.03,341.71 581.03,342.71 581.03,343.68 581.03,344.63 585.79,343.38 585.79,344.31 585.79,345.22 585.79,346.11 590.54,344.91 590.54,345.78 590.54,346.63 595.29,345.46 595.29,346.29 595.29,347.11 595.29,347.91 600.04,346.78 600.04,347.56 600.04,348.33 600.04,349.09 604.8,347.99 604.8,348.73 604.8,349.46 604.8,350.17 609.55,349.11 609.55,349.81 609.55,350.5 609.55,351.18 614.3,350.14 614.3,350.81 614.3,351.46 614.3,352.1" fill="none" stroke="#008000" stroke-width="1.5" stroke-linejoin="round"/>
<polyline points="414.7,241.4 414.7,421.5 414.7,421.5 419.45,361.47 424.2,331.45 428.96,313.44 433.71,301.43 438.46,292.86 438.46,308.94 438.46,321.44 443.21,313.44 447.97,306.89 452.72,301.43 452.72,310.67 452.72,318.59 452.72,325.45 457.47,320.19 462.22,315.56 462.22,321.44 462.22,326.71 466.98,322.44 466.98,327.16 466.98,331.45 471.73,327.53 471.73,331.45 476.48,327.85 476.48,331.45 481.23,328.11 481.23,331.45 481.23,334.56 485.99,331.45 485.99,334.35 490.74,331.45 490.74,334.18 495.49,331.45 495.49,334.02 495.49,336.45 500.24,333.88 500.24,336.19 500.24,338.38 505,335.95 505,338.04 509.75,335.74 509.75,337.73 509.75,339.64 514.5,337.45 514.5,339.28 514.5,341.03 519.25,338.95 519.25,340.64 519.25,342.26 524,340.28 524,341.84 524,343.34 528.76,341.46 528.76,342.91 533.51,341.1 533.51,342.51 533.51,343.87 538.26,342.13 538.26,343.46 538.26,344.74 543.01,343.07 543.01,344.31 543.01,345.52 547.77,343.92 547.77,345.09 547.77,346.23 552.52,344.69 552.52,345.81 552.52,346.89 557.27,345.4 557.27,346.46 557.27,347.49 562.02,346.05 562.02,347.06 562.02,348.04 566.78,346.65 566.78,347.61 566.78,348.55 571.53,347.21 571.53,348.13 571.53,349.02 576.28,347.72 576.28,348.6 576.28,349.46 576.28,350.3 581.03,349.05 581.03,349.87 581.03,350.67 585.79,349.46 585.79,350.25 585.79,351.03 590.54,349.85 590.54,350.61 590.54,351.36 595.29,350.21 595.29,350.95 595.29,351.67 600.04,350.55 600.04,351.26 600.04,351.96 604.8,350.87 604.8,351.56 604.8,352.23 604.8,352.89 609.55,351.84 609.55,352.49 609.55,353.13 614.3,352.1 614.3,352.73 614.3,353.35 614.3,353.96" fill="none" stroke="#ff0000" stroke-width="1.5" stroke-linejoin="round"/>
<polyline points="414.7,241.4 534.46,336.85 574.38,347.66 614.3,354.86" fill="none" stroke="#00ffff" stroke-width="1.5" stroke-linejoin="round"/>
<polyline points="414.7,241.4 414.7,421.5 419.45,331.45 419.45,361.47 419.45,376.48 424.2,349.46 428.96,331.45 433.71,318.59 433.71,331.45 438.46,321.44 443.21,313.44 443.21,323.26 443.21,331.45 447.97,324.52 452.72,318.59 452.72,325.45 452.72,331.45 457.47,326.15 462.22,321.44 462.22,326.71 462.22,331.45 462.22,335.74 466.98,331.45 471.73,327.53 471.73,331.45 476.48,327.85 476.48,331.45 481.23,328.11 481.23,331.45 485.99,328.34 485.99,331.45 490.74,328.55 490.74,331.45 495.49,328.72 495.49,331.45 495.49,334.02 500.24,331.45 500.24,333.88 505,331.45 505,333.76 505,335.95 509.75,333.65 509.75,335.74 514.5,333.54 514.5,335.54 514.5,337.45 519.25,335.37 519.25,337.2 524,335.2 524,336.96 524,338.65 528.76,336.75 528.76,338.38 528.76,339.95 533.51,338.12 533.51,339.64 533.51,341.1 538.26,339.35 538.26,340.77 538.26,342.13 543.01,340.45 543.01,341.78 543.01,343.07 547.77,341.46 547.77,342.71 552.52,341.15 552.52,342.37 552.52,343.55 557.27,342.04 557.27,343.2 557.27,344.31 557.27,345.4 562.02,343.96 562.02,345.02 562.02,346.05 566.78,344.66 566.78,345.67 566.78,346.65 571.53,345.3 571.53,346.27 571.53,347.21 576.28,345.9 576.28,346.82 576.28,347.72 581.03,346.46 581.03,347.34 581.03,348.2 585.79,346.98 585.79,347.82 585.79,348.65 585.79,349.46 590.54,348.27 590.54,349.07 590.54,349.85 595.29,348.69 595.29,349.46 595.29,350.21 600.04,349.09 600.04,349.83 600.04,350.55 600.04,351.26 604.8,350.17 604.8,350.87 604.8,351.56 609.55,350.5 609.55,351.18 609.55,351.84 609.55,352.49 614.3,351.46 614.3,352.1 614.3,352.73 614.3,353.35" fill="none" stroke="#a52a2a" stroke-width="1.5" stroke-linejoin="round"/>
<polyline points="414.7,241.4 414.7,421.5 419.45,331.45 424.2,301.43 428.96,286.43 433.71,277.42 438.46,271.42 443.21,267.13 447.97,263.91 447.97,281.42 452.72,277.42 452.72,290.52 457.47,296.82 457.47,305.72 457.47,313.44 457.47,320.19 457.47,326.15 457.47,331.45 462.22,326.71 462.22,331.45 462.22,335.74 466.98,331.45 466.98,335.37 466.98,338.95 471.73,335.05 471.73,338.38 476.48,334.79 476.48,337.88 476.48,340.77 481.23,337.45 481.23,340.16 481.23,342.71 485.99,339.64 485.99,342.04 485.99,344.31 490.74,341.46 490.74,343.62 490.74,345.67 495.49,342.99 495.49,344.96 495.49,346.82 500.24,344.31 500.24,346.11 505,343.73 505,345.46 505,347.11 509.75,344.86 509.75,346.46 509.75,347.99 514.5,345.86 514.5,347.34 514.5,348.77 519.25,346.74 519.25,348.13 519.25,349.46 524,347.53 524,348.83 528.76,346.98 528.76,348.24 528.76,349.46 533.51,347.69 533.51,348.88 533.51,350.03 538.26,348.33 538.26,349.46 538.26,350.55 543.01,348.92 543.01,349.99 543.01,351.03 547.77,349.46 547.77,350.47 547.77,351.46 552.52,349.95 552.52,350.92 557.27,349.46 557.27,350.41 557.27,351.33 562.02,349.92 562.02,350.83 562.02,351.71 566.78,350.35 566.78,351.22 566.78,352.06 571.53,350.75 571.53,351.58 571.53,352.39 576.28,351.12 576.28,351.92 581.03,350.67 581.03,351.46 581.03,352.23 585.79,351.03 585.79,351.78 585.79,352.53 590.54,351.36 590.54,352.09 590.54,352.8 595.29,351.67 595.29,352.37 595.29,353.06 600.04,351.96 600.04,352.64 600.04,353.31 604.8,352.23 604.8,352.89 609.55,351.84 609.55,352.49 609.55,353.13 614.3,352.1 614.3,352.73 614.3,353.35 614.3,353.96" fill="none" stroke="#ff1493" stroke-width="1.5" stroke-linejoin="round"/>
<polyline points="414.7,421.5 614.3,241.4" fill="none" stroke="#000" stroke-width="1.5" stroke-linejoin="round" stroke-dasharray="4.9 2.1"/>
</g>
<rect x="411.2" y="237.8" width="207.3" height="187" fill="none" stroke="#000" stroke-width="0.53"/>
<path d="M414.7 424.8v2.33M454.62 424.8v2.33M494.54 424.8v2.33M534.46 424.8v2.33M574.38 424.8v2.33M614.3 424.8v2.33M411.2 421.5h-2.33M411.2 385.48h-2.33M411.2 349.46h-2.33M411.2 313.44h-2.33M411.2 277.42h-2.33M411.2 241.4h-2.33" stroke="#000" stroke-width="0.53" fill="none"/>
<text x="409.4" y="434.33" font-size="6.94" fill="#000" textLength="10.61" lengthAdjust="spacingAndGlyphs">0.0</text>
<text x="449.32" y="434.33" font-size="6.94" fill="#000" textLength="10.61" lengthAdjust="spacingAndGlyphs">0.2</text>
<text x="489.24" y="434.33" font-size="6.94" fill="#000" textLength="10.61" lengthAdjust="spacingAndGlyphs">0.4</text>
<text x="529.16" y="434.33" font-size="6.94" fill="#000" textLength="10.61" lengthAdjust="spacingAndGlyphs">0.6</text>
<text x="569.08" y="434.33" font-size="6.94" fill="#000" textLength="10.61" lengthAdjust="spacingAndGlyphs">0.8</text>
<text x="609" y="434.33" font-size="6.94" fill="#000" textLength="10.61" lengthAdjust="spacingAndGlyphs">1.0</text>
<text x="395.92" y="423.93" font-size="6.94" fill="#000" textLength="10.61" lengthAdjust="spacingAndGlyphs">0.0</text>
<text x="395.92" y="387.91" font-size="6.94" fill="#000" textLength="10.61" lengthAdjust="spacingAndGlyphs">0.2</text>
<text x="395.92" y="351.89" font-size="6.94" fill="#000" textLength="10.61" lengthAdjust="spacingAndGlyphs">0.4</text>
<text x="395.92" y="315.87" font-size="6.94" fill="#000" textLength="10.61" lengthAdjust="spacingAndGlyphs">0.6</text>
<text x="395.92" y="279.85" font-size="6.94" fill="#000" textLength="10.61" lengthAdjust="spacingAndGlyphs">0.8</text>
<text x="395.92" y="243.83" font-size="6.94" fill="#000" textLength="10.61" lengthAdjust="spacingAndGlyphs">1.0</text>
<text x="504.9" y="444" font-size="6.94" fill="#000" textLength="19.9" lengthAdjust="spacingAndGlyphs">Recall</text>
<text x="391.9" y="331.3" font-size="6.94" fill="#000" text-anchor="middle" textLength="29.76" lengthAdjust="spacingAndGlyphs" transform="rotate(-90 391.9 331.3)">Precision</text>
<text x="444.29" y="233.3" font-size="8.72" fill="#000" textLength="141.11" lengthAdjust="spacingAndGlyphs">Precision-Recall Curve on Test Data</text>
<rect x="413.7" y="310.5" width="157.1" height="110.7" rx="1.33" fill="#fff" fill-opacity="0.8" stroke="#cccccc" stroke-width="0.53"/>
<path d="M416.2 316.2H431" stroke="#ffff00" stroke-width="1.5"/>
<text x="436" y="318.6" font-size="6.94" fill="#000" textLength="130.9" lengthAdjust="spacingAndGlyphs">Gaussian Naive Bayes (PR AUC = 0.54)</text>
<path d="M416.2 326.08H431" stroke="#000000" stroke-width="1.5"/>
<text x="436" y="328.48" font-size="6.94" fill="#000" textLength="115.06" lengthAdjust="spacingAndGlyphs">GradientBoosting (PR AUC = 0.46)</text>
<path d="M416.2 335.96H431" stroke="#ff00ff" stroke-width="1.5"/>
<text x="436" y="338.36" font-size="6.94" fill="#000" textLength="91.86" lengthAdjust="spacingAndGlyphs">ExtraTrees (PR AUC = 0.47)</text>
<path d="M416.2 345.84H431" stroke="#ffa500" stroke-width="1.5"/>
<text x="436" y="348.24" font-size="6.94" fill="#000" textLength="89.03" lengthAdjust="spacingAndGlyphs">LightGBM (PR AUC = 0.42)</text>
<path d="M416.2 355.72H431" stroke="#800080" stroke-width="1.5"/>
<text x="436" y="358.12" font-size="6.94" fill="#000" textLength="71.44" lengthAdjust="spacingAndGlyphs">SVM (PR AUC = 0.53)</text>
<path d="M416.2 365.6H431" stroke="#0000ff" stroke-width="1.5"/>
<text x="436" y="368" font-size="6.94" fill="#000" textLength="71.24" lengthAdjust="spacingAndGlyphs">KNN (PR AUC = 0.46)</text>
<path d="M416.2 375.48H431" stroke="#008000" stroke-width="1.5"/>
<text x="436" y="377.88" font-size="6.94" fill="#000" textLength="120.86" lengthAdjust="spacingAndGlyphs">Logistic Regression (PR AUC = 0.54)</text>
<path d="M416.2 385.36H431" stroke="#ff0000" stroke-width="1.5"/>
<text x="436" y="387.76" font-size="6.94" fill="#000" textLength="85.45" lengthAdjust="spacingAndGlyphs">XGBoost (PR AUC = 0.42)</text>
<path d="M416.2 395.24H431" stroke="#00ffff" stroke-width="1.5"/>
<text x="436" y="397.64" font-size="6.94" fill="#000" textLength="101.3" lengthAdjust="spacingAndGlyphs">Decision Tree (PR AUC = 0.60)</text>
<path d="M416.2 405.12H431" stroke="#a52a2a" stroke-width="1.5"/>
<text x="436" y="407.52" font-size="6.94" fill="#000" textLength="104.97" lengthAdjust="spacingAndGlyphs">RandomForest (PR AUC = 0.46)</text>
<path d="M416.2 415H431" stroke="#ff1493" stroke-width="1.5"/>
<text x="436" y="417.4" font-size="6.94" fill="#000" textLength="107.81" lengthAdjust="spacingAndGlyphs">Stacking Model (PR AUC = 0.51)</text>
<text x="352.8" y="249.7" font-size="18" fill="#000">D</text>
<g clip-path="url(#cE)">
<polyline points="38,472.6 50,483 56,488 60,486 66,491 76,499 82,505 88,511 96,515 102,517.4 108,525 112,531.4 116,529.4 120,531.4 124,525 130,522.6 136,519.4 146,517.4 152,519 158,523.4 164,526 168,528.2 210.4,528.2" fill="none" stroke="#ffff00" stroke-width="1.56" stroke-linejoin="round"/>
<polyline points="38,472.6 46,476 56,480.6 66,485 76,490 86,497 96,503 106,508 116,513 126,519 136,527 142,537 146,533 150,536 154,535 158,538 164,542 170,549 174,551 177,566 179,548 184,557 190,571 196,589 199,605 200.4,621" fill="none" stroke="#000000" stroke-width="1.56" stroke-linejoin="round"/>
<polyline points="38,472.6 46,489 52,486 58,493 66,498 72,501 82,505 88,510 96,514 102,517.4 107,523 112,529.4 118,527 124,529 130,525 136,524 146,523 156,525 166,527 176,529 180,531 184,528.2 210.4,528.2" fill="none" stroke="#ff00ff" stroke-width="1.56" stroke-linejoin="round"/>
<polyline points="38,472.6 39.6,500.6 56,504 76,509.4 96,516 116,525 126,531 136,541 146,552 156,567 166,589 174,617 176,625" fill="none" stroke="#ffa500" stroke-width="1.56" stroke-linejoin="round"/>
<polyline points="38,472.6 46,477 56,482 66,488.6 72,489.4 76,493 86,499 96,505 106,508 116,512 126,515 136,517.4 142,513 145,516 150,521 156,523 166,525 176,527 180,529 181,538 182,528.6 210.4,528.2" fill="none" stroke="#800080" stroke-width="1.56" stroke-linejoin="round"/>
<polyline points="38,472.6 48,494 56,495 66,496.6 76,498 86,501 96,507 106,511 116,515 126,519 136,523 146,527 156,531 166,539 170,547 174,544 180,553 188,571 191,581 194,575 197,595 199,621" fill="none" stroke="#0000ff" stroke-width="1.56" stroke-linejoin="round"/>
<polyline points="38,472.6 46,476 56,481 66,486 73,486.6 77,490 80,495 86,498 96,505 106,510 116,518 126,519 130,524 136,525 146,526 152,524 156,522 166,523 170,525 172,528.4 210.4,528.2" fill="none" stroke="#008000" stroke-width="1.56" stroke-linejoin="round"/>
<polyline points="38,472.6 41,491 44,493 56,494 66,495.4 76,498 86,501 96,504 106,506 116,508 126,510.6 136,514 146,518 156,525 164,534 173,544 184,557 190,579 193,599 195,621" fill="none" stroke="#ff0000" stroke-width="1.56" stroke-linejoin="round"/>
<polyline points="38,472.6 46,479 56,487 66,494 76,498 86,503 96,510 106,515 116,517 122,525 128,523 134,531 140,527 144,545 148,548 152,542 156,537 160,535 166,531 172,535 176,537 180,535 182,540 185,528.6 210.4,528.2" fill="none" stroke="#00ffff" stroke-width="1.56" stroke-linejoin="round"/>
<polyline points="38,472.6 46,477 56,482 64,487 68,493 72,490 76,495 86,500 96,505 106,507.4 116,511 126,513.4 136,516 146,519 152,525 162,531 170,535 176,538 179,539 180,528.6 210.4,528.2" fill="none" stroke="#a52a2a" stroke-width="1.56" stroke-linejoin="round"/>
<polyline points="38,472.6 42,481 48,491 56,490 66,495 76,499 86,502 96,504 104,503 116,505 126,507 136,511 146,515 156,520 166,524 176,535 182,549 188,565 192,583 195,567 197,585 200,605 202,621" fill="none" stroke="#ff1493" stroke-width="1.56" stroke-linejoin="round"/>
<polyline points="38.1,472.74 38.96,473.22 39.82,473.71 40.69,474.21 41.55,474.71 42.41,475.22 43.27,475.73 44.13,476.25 45,476.77 45.86,477.3 46.72,477.83 47.58,478.37 48.44,478.91 49.31,479.47 50.17,480.02 51.03,480.58 51.89,481.15 52.75,481.73 53.62,482.31 54.48,482.9 55.34,483.49 56.2,484.09 57.06,484.7 57.93,485.31 58.79,485.94 59.65,486.56 60.51,487.2 61.37,487.84 62.24,488.49 63.1,489.15 63.96,489.82 64.82,490.49 65.68,491.17 66.55,491.86 67.41,492.56 68.27,493.27 69.13,493.98 69.99,494.71 70.86,495.44 71.72,496.18 72.58,496.94 73.44,497.7 74.3,498.47 75.17,499.25 76.03,500.04 76.89,500.84 77.75,501.65 78.61,502.47 79.48,503.3 80.34,504.15 81.2,505 82.06,505.87 82.92,506.75 83.79,507.64 84.65,508.54 85.51,509.45 86.37,510.38 87.23,511.32 88.1,512.27 88.96,513.24 89.82,514.22 90.68,515.22 91.54,516.22 92.41,517.25 93.27,518.29 94.13,519.34 94.99,520.41 95.85,521.5 96.72,522.6 97.58,523.72 98.44,524.86 99.3,526.01 100.16,527.18 101.03,528.38 101.89,529.59 102.75,530.81 103.61,532.06 104.47,533.33 105.34,534.62 106.2,535.93 107.06,537.27 107.92,538.62 108.78,540 109.65,541.4 110.51,542.83 111.37,544.28 112.23,545.76 113.09,547.26 113.96,548.79 114.82,550.35 115.68,551.93 116.54,553.55 117.4,555.19 118.27,556.87 119.13,558.57 119.99,560.31 120.85,562.09 121.71,563.89 122.58,565.74 123.44,567.62 124.3,569.53 125.16,571.49 126.02,573.48 126.89,575.52 127.75,577.6 128.61,579.72 129.47,581.89 130.33,584.1 131.2,586.37 132.06,588.68 132.92,591.04 133.78,593.46 134.64,595.93 135.51,598.46 136.37,601.05 137.23,603.7 138.09,606.41 138.95,609.18 139.82,612.03 140.68,614.94 141.54,617.93 142.4,620.99 143.26,624.14 144.13,627.36 144.99,630.67 145.85,634.06 146.71,637.55 147.57,641.14 148.44,644.82 149.3,648.61" fill="none" stroke="#000" stroke-width="1.56" stroke-linejoin="round" stroke-dasharray="5.7 3"/>
<polyline points="172.57,528.04 210.5,528.04" fill="none" stroke="#b05050" stroke-width="1.56" stroke-linejoin="round"/>
<polyline points="38.1,528.04 210.5,528.04" fill="none" stroke="#ff0000" stroke-width="1.56" stroke-linejoin="round" stroke-dasharray="5.7 3"/>
</g>
<rect x="36.5" y="467.2" width="176" height="152.1" fill="none" stroke="#000" stroke-width="0.62"/>
<path d="M38.1 619.3v3.3M72.58 619.3v3.3M107.06 619.3v3.3M141.54 619.3v3.3M176.02 619.3v3.3M210.5 619.3v3.3M36.5 619.3h-3.3M36.5 588.88h-3.3M36.5 558.46h-3.3M36.5 528.04h-3.3M36.5 497.62h-3.3M36.5 467.2h-3.3" stroke="#000" stroke-width="0.62" fill="none"/>
<text x="31.9" y="631.02" font-size="8.5" fill="#000" textLength="12.4" lengthAdjust="spacingAndGlyphs">0.0</text>
<text x="66.38" y="631.02" font-size="8.5" fill="#000" textLength="12.4" lengthAdjust="spacingAndGlyphs">0.2</text>
<text x="100.86" y="631.02" font-size="8.5" fill="#000" textLength="12.4" lengthAdjust="spacingAndGlyphs">0.4</text>
<text x="135.34" y="631.02" font-size="8.5" fill="#000" textLength="12.4" lengthAdjust="spacingAndGlyphs">0.6</text>
<text x="169.82" y="631.02" font-size="8.5" fill="#000" textLength="12.4" lengthAdjust="spacingAndGlyphs">0.8</text>
<text x="204.3" y="631.02" font-size="8.5" fill="#000" textLength="12.4" lengthAdjust="spacingAndGlyphs">1.0</text>
<text x="11.53" y="622.14" font-size="8.5" fill="#000" textLength="18.94" lengthAdjust="spacingAndGlyphs">−0.6</text>
<text x="11.53" y="591.72" font-size="8.5" fill="#000" textLength="18.94" lengthAdjust="spacingAndGlyphs">−0.4</text>
<text x="11.53" y="561.3" font-size="8.5" fill="#000" textLength="18.94" lengthAdjust="spacingAndGlyphs">−0.2</text>
<text x="18.07" y="530.88" font-size="8.5" fill="#000" textLength="12.4" lengthAdjust="spacingAndGlyphs">0.0</text>
<text x="18.07" y="500.46" font-size="8.5" fill="#000" textLength="12.4" lengthAdjust="spacingAndGlyphs">0.2</text>
<text x="18.07" y="470.04" font-size="8.5" fill="#000" textLength="12.4" lengthAdjust="spacingAndGlyphs">0.4</text>
<text x="83.42" y="642" font-size="8.5" fill="#000" textLength="82.15" lengthAdjust="spacingAndGlyphs">Threshold Probability</text>
<text x="7.4" y="543.25" font-size="8.5" fill="#000" text-anchor="middle" textLength="44.04" lengthAdjust="spacingAndGlyphs" transform="rotate(-90 7.4 543.25)">Net Benefit</text>
<text x="44.7" y="462.3" font-size="10.2" fill="#000" textLength="159.59" lengthAdjust="spacingAndGlyphs">Decision Curve on Validation Data</text>
<rect x="219.9" y="467.2" width="115.4" height="151.6" rx="1.56" fill="#fff" fill-opacity="0.8" stroke="#cccccc" stroke-width="0.62"/>
<path d="M222.2 473.5H239.6" stroke="#ffff00" stroke-width="1.56"/>
<text x="245.5" y="476.31" font-size="8.5" fill="#000" textLength="86.55" lengthAdjust="spacingAndGlyphs">Gaussian Naive Bayes</text>
<path d="M222.2 485H239.6" stroke="#000000" stroke-width="1.56"/>
<text x="245.5" y="487.81" font-size="8.5" fill="#000" textLength="68.03" lengthAdjust="spacingAndGlyphs">GradientBoosting</text>
<path d="M222.2 496.5H239.6" stroke="#ff00ff" stroke-width="1.56"/>
<text x="245.5" y="499.31" font-size="8.5" fill="#000" textLength="40.9" lengthAdjust="spacingAndGlyphs">ExtraTrees</text>
<path d="M222.2 508H239.6" stroke="#ffa500" stroke-width="1.56"/>
<text x="245.5" y="510.81" font-size="8.5" fill="#000" textLength="37.59" lengthAdjust="spacingAndGlyphs">LightGBM</text>
<path d="M222.2 519.5H239.6" stroke="#800080" stroke-width="1.56"/>
<text x="245.5" y="522.31" font-size="8.5" fill="#000" textLength="17.02" lengthAdjust="spacingAndGlyphs">SVM</text>
<path d="M222.2 531H239.6" stroke="#0000ff" stroke-width="1.56"/>
<text x="245.5" y="533.81" font-size="8.5" fill="#000" textLength="16.78" lengthAdjust="spacingAndGlyphs">KNN</text>
<path d="M222.2 542.5H239.6" stroke="#008000" stroke-width="1.56"/>
<text x="245.5" y="545.31" font-size="8.5" fill="#000" textLength="74.82" lengthAdjust="spacingAndGlyphs">Logistic Regression</text>
<path d="M222.2 554H239.6" stroke="#ff0000" stroke-width="1.56"/>
<text x="245.5" y="556.81" font-size="8.5" fill="#000" textLength="33.41" lengthAdjust="spacingAndGlyphs">XGBoost</text>
<path d="M222.2 565.5H239.6" stroke="#00ffff" stroke-width="1.56"/>
<text x="245.5" y="568.31" font-size="8.5" fill="#000" textLength="51.94" lengthAdjust="spacingAndGlyphs">Decision Tree</text>
<path d="M222.2 577H239.6" stroke="#a52a2a" stroke-width="1.56"/>
<text x="245.5" y="579.81" font-size="8.5" fill="#000" textLength="58.71" lengthAdjust="spacingAndGlyphs">Random Forest</text>
<path d="M222.2 588.5H239.6" stroke="#ff1493" stroke-width="1.56"/>
<text x="245.5" y="591.31" font-size="8.5" fill="#000" textLength="59.56" lengthAdjust="spacingAndGlyphs">Stacking Model</text>
<path d="M222.2 600H239.6" stroke="#000" stroke-width="1.56" stroke-dasharray="5.7 3"/>
<text x="245.5" y="602.81" font-size="8.5" fill="#000" textLength="31.44" lengthAdjust="spacingAndGlyphs">Treat All</text>
<path d="M222.2 611.5H239.6" stroke="#ff0000" stroke-width="1" stroke-dasharray="5.7 3"/>
<text x="245.5" y="614.31" font-size="8.5" fill="#000" textLength="42.12" lengthAdjust="spacingAndGlyphs">Treat None</text>
<text x="-0.6" y="477.7" font-size="18" fill="#000">E</text>
<g clip-path="url(#cF)">
<polyline points="385,472.6 403,485 423,503 433,506 443,515 453,521 463,522 473,523 482,521 490,521 492,520 498,524 506,527 514,529 522,526 526,528 531,528.4 556.8,528.4" fill="none" stroke="#ffff00" stroke-width="1.56" stroke-linejoin="round"/>
<polyline points="385,472.6 393,477 403,483 413,490 423,499 433,508 443,517 448,525 451,531 454,528 457,530 462,530 467,529 473,531 479,530 483,533 487,529.4 491,532 495,529 503,531 513,534 520,535 526,537 534,538 542,545 548,553 551,561 552,571 553,585 554,623" fill="none" stroke="#000000" stroke-width="1.56" stroke-linejoin="round"/>
<polyline points="385,472.6 387,489 393,493 403,497 413,502 423,505 429,503 433,505 435,508 443,518 453,523 462,521 472,520 478,517 482,520 486,522 492,525 503,526 513,527 523,528 533,528.4 556.8,528.4" fill="none" stroke="#ff00ff" stroke-width="1.56" stroke-linejoin="round"/>
<polyline points="385,472.6 386.6,501 393,503 403,505 422,510 442,519 462,531 472,535 482,545 492,557 502,569 512,589 520,619 521,623" fill="none" stroke="#ffa500" stroke-width="1.56" stroke-linejoin="round"/>
<polyline points="385,472.6 403,484 423,501 433,509 443,516.6 453,523 463,527 472,529 482,531 492,533 502,532 512,535 522,536 526,533 530,528.4 556.8,528.4" fill="none" stroke="#800080" stroke-width="1.56" stroke-linejoin="round"/>
<polyline points="385,472.6 388,488 391,495 403,500 423,507 433,511 443,517 453,525 462,531 478,541 482,547 492,557 498,561 502,565 510,563 516,571 522,589 526,593 530,595 534,596 537,601 540,611 542.4,623" fill="none" stroke="#0000ff" stroke-width="1.56" stroke-linejoin="round"/>
<polyline points="385,472.6 403,485 423,501 433,509 443,517 453,523 462,524 472,525 482,524 492,525 502,528 512,531 522,531 532,528 534,528.4 556.8,528.4" fill="none" stroke="#008000" stroke-width="1.56" stroke-linejoin="round"/>
<polyline points="385,472.6 386.6,493 389,500 403,505 413,508 423,511 433,514 443,519 453,525 463,530 473,534 482,541 492,547 502,553 508,561 514,569 520,577 524,581 528,589 530,597 534,613 537,623" fill="none" stroke="#ff0000" stroke-width="1.56" stroke-linejoin="round"/>
<polyline points="385,472.6 393,478 403,485 413,491 423,499 433,509 443,517 453,525 459,533 464,537 472,540 482,540 492,538 502,539 508,541 512,535 516,524 520,527 526,531 530,537 534,535 538,539 542,545 548,555 551,569 552,569 553,529 554,528.4 556.8,528.4" fill="none" stroke="#00ffff" stroke-width="1.56" stroke-linejoin="round"/>
<polyline points="385,472.6 393,477 403,484 409,487 413,493 417,497 423,502 433,509 442,517 452,521 462,527 472,531 482,535 492,539 502,538 512,533 518,525 522,531 528,532 534,533 537,537 538,528.4 556.8,528.4" fill="none" stroke="#a52a2a" stroke-width="1.56" stroke-linejoin="round"/>
<polyline points="385,472.6 387,487 391,491 403,501 413,505 423,509 433,513 443,519 453,527 463,537 472,549 482,553 492,561 502,567 512,573 518,579 522,583 526,589 532,593 534,585 537,561 540,569 543,579 545,557 547,565 550,585 552,605 553,623" fill="none" stroke="#ff1493" stroke-width="1.56" stroke-linejoin="round"/>
<polyline points="384.3,472.06 385.16,472.55 386.03,473.03 386.89,473.53 387.75,474.02 388.62,474.53 389.48,475.04 390.34,475.55 391.2,476.07 392.07,476.59 392.93,477.12 393.79,477.66 394.66,478.2 395.52,478.74 396.38,479.29 397.25,479.85 398.11,480.42 398.97,480.99 399.83,481.56 400.7,482.15 401.56,482.74 402.42,483.33 403.29,483.94 404.15,484.55 405.01,485.16 405.88,485.79 406.74,486.42 407.6,487.06 408.46,487.7 409.33,488.36 410.19,489.02 411.05,489.69 411.92,490.36 412.78,491.05 413.64,491.74 414.5,492.44 415.37,493.15 416.23,493.87 417.09,494.6 417.96,495.33 418.82,496.08 419.68,496.84 420.55,497.6 421.41,498.37 422.27,499.16 423.13,499.95 424,500.76 424.86,501.57 425.72,502.4 426.59,503.24 427.45,504.09 428.31,504.94 429.18,505.82 430.04,506.7 430.9,507.59 431.76,508.5 432.63,509.42 433.49,510.36 434.35,511.3 435.22,512.26 436.08,513.23 436.94,514.22 437.81,515.22 438.67,516.24 439.53,517.27 440.39,518.32 441.26,519.38 442.12,520.46 442.98,521.55 443.85,522.66 444.71,523.79 445.57,524.94 446.44,526.1 447.3,527.28 448.16,528.48 449.02,529.7 449.89,530.94 450.75,532.2 451.61,533.48 452.48,534.78 453.34,536.11 454.2,537.45 455.07,538.82 455.93,540.21 456.79,541.63 457.65,543.07 458.52,544.53 459.38,546.02 460.24,547.54 461.11,549.09 461.97,550.66 462.83,552.26 463.7,553.9 464.56,555.56 465.42,557.25 466.28,558.98 467.15,560.74 468.01,562.53 468.87,564.36 469.74,566.23 470.6,568.13 471.46,570.07 472.33,572.05 473.19,574.07 474.05,576.13 474.91,578.24 475.78,580.39 476.64,582.59 477.5,584.83 478.37,587.13 479.23,589.48 480.09,591.87 480.96,594.33 481.82,596.84 482.68,599.4 483.54,602.03 484.41,604.72 485.27,607.48 486.13,610.3 487,613.2 487.86,616.16 488.72,619.2 489.59,622.32 490.45,625.52 491.31,628.8 492.17,632.17 493.04,635.63 493.9,639.19 494.76,642.84 495.63,646.6" fill="none" stroke="#000" stroke-width="1.56" stroke-linejoin="round" stroke-dasharray="5.7 3"/>
<polyline points="508.57,528 556.9,528" fill="none" stroke="#b05050" stroke-width="1.56" stroke-linejoin="round"/>
<polyline points="384.3,528 556.9,528" fill="none" stroke="#ff0000" stroke-width="1.56" stroke-linejoin="round" stroke-dasharray="5.7 3"/>
</g>
<rect x="383.3" y="467.2" width="175.1" height="152" fill="none" stroke="#000" stroke-width="0.62"/>
<path d="M384.3 619.2v3.3M418.82 619.2v3.3M453.34 619.2v3.3M487.86 619.2v3.3M522.38 619.2v3.3M556.9 619.2v3.3M383.3 619.2h-3.3M383.3 588.8h-3.3M383.3 558.4h-3.3M383.3 528h-3.3M383.3 497.6h-3.3M383.3 467.2h-3.3" stroke="#000" stroke-width="0.62" fill="none"/>
<text x="378.1" y="630.92" font-size="8.5" fill="#000" textLength="12.4" lengthAdjust="spacingAndGlyphs">0.0</text>
<text x="412.62" y="630.92" font-size="8.5" fill="#000" textLength="12.4" lengthAdjust="spacingAndGlyphs">0.2</text>
<text x="447.14" y="630.92" font-size="8.5" fill="#000" textLength="12.4" lengthAdjust="spacingAndGlyphs">0.4</text>
<text x="481.66" y="630.92" font-size="8.5" fill="#000" textLength="12.4" lengthAdjust="spacingAndGlyphs">0.6</text>
<text x="516.18" y="630.92" font-size="8.5" fill="#000" textLength="12.4" lengthAdjust="spacingAndGlyphs">0.8</text>
<text x="550.7" y="630.92" font-size="8.5" fill="#000" textLength="12.4" lengthAdjust="spacingAndGlyphs">1.0</text>
<text x="358.33" y="622.04" font-size="8.5" fill="#000" textLength="18.94" lengthAdjust="spacingAndGlyphs">−0.6</text>
<text x="358.33" y="591.64" font-size="8.5" fill="#000" textLength="18.94" lengthAdjust="spacingAndGlyphs">−0.4</text>
<text x="358.33" y="561.24" font-size="8.5" fill="#000" textLength="18.94" lengthAdjust="spacingAndGlyphs">−0.2</text>
<text x="364.87" y="530.84" font-size="8.5" fill="#000" textLength="12.4" lengthAdjust="spacingAndGlyphs">0.0</text>
<text x="364.87" y="500.44" font-size="8.5" fill="#000" textLength="12.4" lengthAdjust="spacingAndGlyphs">0.2</text>
<text x="364.87" y="470.04" font-size="8.5" fill="#000" textLength="12.4" lengthAdjust="spacingAndGlyphs">0.4</text>
<text x="429.77" y="642" font-size="8.5" fill="#000" textLength="82.15" lengthAdjust="spacingAndGlyphs">Threshold Probability</text>
<text x="354.2" y="543.2" font-size="8.5" fill="#000" text-anchor="middle" textLength="44.04" lengthAdjust="spacingAndGlyphs" transform="rotate(-90 354.2 543.2)">Net Benefit</text>
<text x="404.95" y="462.3" font-size="10.2" fill="#000" textLength="131.8" lengthAdjust="spacingAndGlyphs">Decision Curve on Test Data</text>
<rect x="566.8" y="467.2" width="114.9" height="151.6" rx="1.56" fill="#fff" fill-opacity="0.8" stroke="#cccccc" stroke-width="0.62"/>
<path d="M569.1 473.5H586" stroke="#ffff00" stroke-width="1.56"/>
<text x="591.8" y="476.31" font-size="8.5" fill="#000" textLength="86.55" lengthAdjust="spacingAndGlyphs">Gaussian Naive Bayes</text>
<path d="M569.1 485H586" stroke="#000000" stroke-width="1.56"/>
<text x="591.8" y="487.81" font-size="8.5" fill="#000" textLength="68.03" lengthAdjust="spacingAndGlyphs">GradientBoosting</text>
<path d="M569.1 496.5H586" stroke="#ff00ff" stroke-width="1.56"/>
<text x="591.8" y="499.31" font-size="8.5" fill="#000" textLength="40.9" lengthAdjust="spacingAndGlyphs">ExtraTrees</text>
<path d="M569.1 508H586" stroke="#ffa500" stroke-width="1.56"/>
<text x="591.8" y="510.81" font-size="8.5" fill="#000" textLength="37.59" lengthAdjust="spacingAndGlyphs">LightGBM</text>
<path d="M569.1 519.5H586" stroke="#800080" stroke-width="1.56"/>
<text x="591.8" y="522.31" font-size="8.5" fill="#000" textLength="17.02" lengthAdjust="spacingAndGlyphs">SVM</text>
<path d="M569.1 531H586" stroke="#0000ff" stroke-width="1.56"/>
<text x="591.8" y="533.81" font-size="8.5" fill="#000" textLength="16.78" lengthAdjust="spacingAndGlyphs">KNN</text>
<path d="M569.1 542.5H586" stroke="#008000" stroke-width="1.56"/>
<text x="591.8" y="545.31" font-size="8.5" fill="#000" textLength="74.82" lengthAdjust="spacingAndGlyphs">Logistic Regression</text>
<path d="M569.1 554H586" stroke="#ff0000" stroke-width="1.56"/>
<text x="591.8" y="556.81" font-size="8.5" fill="#000" textLength="33.41" lengthAdjust="spacingAndGlyphs">XGBoost</text>
<path d="M569.1 565.5H586" stroke="#00ffff" stroke-width="1.56"/>
<text x="591.8" y="568.31" font-size="8.5" fill="#000" textLength="51.94" lengthAdjust="spacingAndGlyphs">Decision Tree</text>
<path d="M569.1 577H586" stroke="#a52a2a" stroke-width="1.56"/>
<text x="591.8" y="579.81" font-size="8.5" fill="#000" textLength="58.71" lengthAdjust="spacingAndGlyphs">Random Forest</text>
<path d="M569.1 588.5H586" stroke="#ff1493" stroke-width="1.56"/>
<text x="591.8" y="591.31" font-size="8.5" fill="#000" textLength="59.56" lengthAdjust="spacingAndGlyphs">Stacking Model</text>
<path d="M569.1 600H586" stroke="#000" stroke-width="1.56" stroke-dasharray="5.7 3"/>
<text x="591.8" y="602.81" font-size="8.5" fill="#000" textLength="31.44" lengthAdjust="spacingAndGlyphs">Treat All</text>
<path d="M569.1 611.5H586" stroke="#ff0000" stroke-width="1" stroke-dasharray="5.7 3"/>
<text x="591.8" y="614.31" font-size="8.5" fill="#000" textLength="42.12" lengthAdjust="spacingAndGlyphs">Treat None</text>
<text x="346.5" y="478" font-size="18" fill="#000">F</text>
<g clip-path="url(#cG)">
<polyline points="39.1,819.9 211.3,670.3" fill="none" stroke="#000" stroke-width="1.17" stroke-linejoin="round" stroke-dasharray="4.3 1.9"/>
<polyline points="43.23,797.91 79.74,755.12 94.55,819.9 133.12,713.24 150.17,763.2 166.18,734.18 182.54,745.1" fill="none" stroke="#ffff00" stroke-width="1.17" stroke-linejoin="round"/>
<path d="M40.73 795.41h5v5h-5zM77.24 752.62h5v5h-5zM92.05 817.4h5v5h-5zM130.62 710.74h5v5h-5zM147.67 760.7h5v5h-5zM163.68 731.68h5v5h-5zM180.04 742.6h5v5h-5z" fill="#ffff00"/>
<polyline points="39.79,788.93 112.46,744.65 142.42,670.3 172.38,670.3 182.03,720.42 211.3,725.65" fill="none" stroke="#000000" stroke-width="1.17" stroke-linejoin="round"/>
<path d="M37.29 786.43h5v5h-5zM109.96 742.15h5v5h-5zM179.53 717.92h5v5h-5z" fill="#000000"/>
<polyline points="67.34,819.9 84.22,744.95 114.87,755.27 138.98,727.15 168.59,720.42" fill="none" stroke="#ff00ff" stroke-width="1.17" stroke-linejoin="round"/>
<path d="M64.84 817.4h5v5h-5zM81.72 742.45h5v5h-5zM112.37 752.77h5v5h-5zM166.09 717.92h5v5h-5z" fill="#ff00ff"/>
<polyline points="42.03,784.44 62.86,819.9 94.89,670.3 121.58,819.9 138.29,745.1 148.79,670.3 173.42,819.9 186.5,745.1 207,712.19" fill="none" stroke="#ffa500" stroke-width="1.17" stroke-linejoin="round"/>
<path d="M39.53 781.94h5v5h-5zM60.36 817.4h5v5h-5zM119.08 817.4h5v5h-5zM135.79 742.6h5v5h-5zM170.92 817.4h5v5h-5zM184 742.6h5v5h-5z" fill="#ffa500"/>
<polyline points="54.6,819.9 66.82,763.65 81.46,785.49 100.06,765.3 118.14,769.93 132.09,744.65 145.86,670.3" fill="none" stroke="#800080" stroke-width="1.17" stroke-linejoin="round"/>
<path d="M52.1 817.4h5v5h-5zM64.32 761.15h5v5h-5zM78.96 782.99h5v5h-5zM97.56 762.8h5v5h-5zM115.64 767.43h5v5h-5zM129.59 742.15h5v5h-5z" fill="#800080"/>
<polyline points="39.1,819.9 71.3,778.76 75.78,770.53 102.81,755.27 110.74,769.34 138.98,730.14 145.69,733.88 172.56,670.3 179.27,729.84 219.91,782.5" fill="none" stroke="#0000ff" stroke-width="1.17" stroke-linejoin="round"/>
<path d="M36.6 817.4h5v5h-5zM68.8 776.26h5v5h-5zM73.28 768.03h5v5h-5zM100.31 752.77h5v5h-5zM108.24 766.84h5v5h-5zM136.48 727.64h5v5h-5zM143.19 731.38h5v5h-5zM176.77 727.34h5v5h-5z" fill="#0000ff"/>
<polyline points="50.98,769.78 62.86,769.78 79.74,819.9 96.1,775.02 114.18,731.64 132.09,798.06 153.61,670.3 167.56,670.3" fill="none" stroke="#008000" stroke-width="1.17" stroke-linejoin="round"/>
<path d="M48.48 767.28h5v5h-5zM60.36 767.28h5v5h-5zM77.24 817.4h5v5h-5zM93.6 772.52h5v5h-5zM111.68 729.14h5v5h-5zM129.59 795.56h5v5h-5z" fill="#008000"/>
<polyline points="44.27,786.09 65.27,776.52 84.22,819.9 98.51,819.9 140.53,670.3 149.48,670.3 169.8,769.78 186.16,670.3 203.9,719.67" fill="none" stroke="#ff0000" stroke-width="1.17" stroke-linejoin="round"/>
<path d="M41.77 783.59h5v5h-5zM62.77 774.02h5v5h-5zM81.72 817.4h5v5h-5zM96.01 817.4h5v5h-5zM167.3 767.28h5v5h-5z" fill="#ff0000"/>
<polyline points="39.79,772.63 210.44,752.58" fill="none" stroke="#00ffff" stroke-width="1.17" stroke-linejoin="round"/>
<path d="M37.29 770.13h5v5h-5zM207.94 750.08h5v5h-5z" fill="#00ffff"/>
<polyline points="50.47,819.9 68.37,769.78 81.46,774.87 94.55,769.34 117.62,800.9 133.12,695.13 151.72,713.24 173.59,719.97" fill="none" stroke="#a52a2a" stroke-width="1.17" stroke-linejoin="round"/>
<path d="M47.97 817.4h5v5h-5zM65.87 767.28h5v5h-5zM78.96 772.37h5v5h-5zM92.05 766.84h5v5h-5zM115.12 798.4h5v5h-5zM130.62 692.63h5v5h-5zM149.22 710.74h5v5h-5zM171.09 717.47h5v5h-5z" fill="#a52a2a"/>
<polyline points="56.15,819.9 64.07,795.07 80.26,744.95 99.54,776.67 119.35,819.9 133.81,730.14 151.2,707.55 167.39,712.19" fill="none" stroke="#ff1493" stroke-width="1.17" stroke-linejoin="round"/>
<path d="M53.65 817.4h5v5h-5zM61.57 792.57h5v5h-5zM77.76 742.45h5v5h-5zM97.04 774.17h5v5h-5zM116.85 817.4h5v5h-5zM131.31 727.64h5v5h-5zM148.7 705.05h5v5h-5zM164.89 709.69h5v5h-5z" fill="#ff1493"/>
</g>
<rect x="37.5" y="668.3" width="175.3" height="153" fill="none" stroke="#000" stroke-width="0.62"/>
<path d="M39.1 821.3v3.3M73.54 821.3v3.3M107.98 821.3v3.3M142.42 821.3v3.3M176.86 821.3v3.3M211.3 821.3v3.3M37.5 819.9h-3.3M37.5 789.98h-3.3M37.5 760.06h-3.3M37.5 730.14h-3.3M37.5 700.22h-3.3M37.5 670.3h-3.3" stroke="#000" stroke-width="0.62" fill="none"/>
<text x="32.9" y="833.02" font-size="8.5" fill="#000" textLength="12.4" lengthAdjust="spacingAndGlyphs">0.0</text>
<text x="67.34" y="833.02" font-size="8.5" fill="#000" textLength="12.4" lengthAdjust="spacingAndGlyphs">0.2</text>
<text x="101.78" y="833.02" font-size="8.5" fill="#000" textLength="12.4" lengthAdjust="spacingAndGlyphs">0.4</text>
<text x="136.22" y="833.02" font-size="8.5" fill="#000" textLength="12.4" lengthAdjust="spacingAndGlyphs">0.6</text>
<text x="170.66" y="833.02" font-size="8.5" fill="#000" textLength="12.4" lengthAdjust="spacingAndGlyphs">0.8</text>
<text x="205.1" y="833.02" font-size="8.5" fill="#000" textLength="12.4" lengthAdjust="spacingAndGlyphs">1.0</text>
<text x="19.07" y="822.74" font-size="8.5" fill="#000" textLength="12.4" lengthAdjust="spacingAndGlyphs">0.0</text>
<text x="19.07" y="792.82" font-size="8.5" fill="#000" textLength="12.4" lengthAdjust="spacingAndGlyphs">0.2</text>
<text x="19.07" y="762.9" font-size="8.5" fill="#000" textLength="12.4" lengthAdjust="spacingAndGlyphs">0.4</text>
<text x="19.07" y="732.98" font-size="8.5" fill="#000" textLength="12.4" lengthAdjust="spacingAndGlyphs">0.6</text>
<text x="19.07" y="703.06" font-size="8.5" fill="#000" textLength="12.4" lengthAdjust="spacingAndGlyphs">0.8</text>
<text x="19.07" y="673.14" font-size="8.5" fill="#000" textLength="12.4" lengthAdjust="spacingAndGlyphs">1.0</text>
<text x="73.12" y="842.9" font-size="8.5" fill="#000" textLength="104.06" lengthAdjust="spacingAndGlyphs">Mean Predicted Probability</text>
<text x="14.9" y="744.8" font-size="8.5" fill="#000" text-anchor="middle" textLength="77.75" lengthAdjust="spacingAndGlyphs" transform="rotate(-90 14.9 744.8)">Fraction of Positives</text>
<text x="39.82" y="663.9" font-size="10.2" fill="#000" textLength="170.67" lengthAdjust="spacingAndGlyphs">Calibration Curve on Validation Data</text>
<rect x="221.6" y="677.9" width="114.8" height="140.4" rx="1.56" fill="#fff" fill-opacity="0.8" stroke="#cccccc" stroke-width="0.62"/>
<path d="M224.1 684.4H240.6" stroke="#ffff00" stroke-width="1.17"/>
<rect x="229.85" y="681.9" width="5" height="5" fill="#ffff00"/>
<text x="246.9" y="687.21" font-size="8.5" fill="#000" textLength="86.55" lengthAdjust="spacingAndGlyphs">Gaussian Naive Bayes</text>
<path d="M224.1 695.92H240.6" stroke="#000000" stroke-width="1.17"/>
<rect x="229.85" y="693.42" width="5" height="5" fill="#000000"/>
<text x="246.9" y="698.73" font-size="8.5" fill="#000" textLength="68.03" lengthAdjust="spacingAndGlyphs">GradientBoosting</text>
<path d="M224.1 707.44H240.6" stroke="#ff00ff" stroke-width="1.17"/>
<rect x="229.85" y="704.94" width="5" height="5" fill="#ff00ff"/>
<text x="246.9" y="710.25" font-size="8.5" fill="#000" textLength="40.9" lengthAdjust="spacingAndGlyphs">ExtraTrees</text>
<path d="M224.1 718.96H240.6" stroke="#ffa500" stroke-width="1.17"/>
<rect x="229.85" y="716.46" width="5" height="5" fill="#ffa500"/>
<text x="246.9" y="721.77" font-size="8.5" fill="#000" textLength="37.59" lengthAdjust="spacingAndGlyphs">LightGBM</text>
<path d="M224.1 730.48H240.6" stroke="#800080" stroke-width="1.17"/>
<rect x="229.85" y="727.98" width="5" height="5" fill="#800080"/>
<text x="246.9" y="733.29" font-size="8.5" fill="#000" textLength="17.02" lengthAdjust="spacingAndGlyphs">SVM</text>
<path d="M224.1 742H240.6" stroke="#0000ff" stroke-width="1.17"/>
<rect x="229.85" y="739.5" width="5" height="5" fill="#0000ff"/>
<text x="246.9" y="744.81" font-size="8.5" fill="#000" textLength="16.78" lengthAdjust="spacingAndGlyphs">KNN</text>
<path d="M224.1 753.52H240.6" stroke="#008000" stroke-width="1.17"/>
<rect x="229.85" y="751.02" width="5" height="5" fill="#008000"/>
<text x="246.9" y="756.33" font-size="8.5" fill="#000" textLength="74.82" lengthAdjust="spacingAndGlyphs">Logistic Regression</text>
<path d="M224.1 765.04H240.6" stroke="#ff0000" stroke-width="1.17"/>
<rect x="229.85" y="762.54" width="5" height="5" fill="#ff0000"/>
<text x="246.9" y="767.85" font-size="8.5" fill="#000" textLength="33.41" lengthAdjust="spacingAndGlyphs">XGBoost</text>
<path d="M224.1 776.56H240.6" stroke="#00ffff" stroke-width="1.17"/>
<rect x="229.85" y="774.06" width="5" height="5" fill="#00ffff"/>
<text x="246.9" y="779.37" font-size="8.5" fill="#000" textLength="51.94" lengthAdjust="spacingAndGlyphs">Decision Tree</text>
<path d="M224.1 788.08H240.6" stroke="#a52a2a" stroke-width="1.17"/>
<rect x="229.85" y="785.58" width="5" height="5" fill="#a52a2a"/>
<text x="246.9" y="790.89" font-size="8.5" fill="#000" textLength="58.71" lengthAdjust="spacingAndGlyphs">Random Forest</text>
<path d="M224.1 799.6H240.6" stroke="#ff1493" stroke-width="1.17"/>
<rect x="229.85" y="797.1" width="5" height="5" fill="#ff1493"/>
<text x="246.9" y="802.41" font-size="8.5" fill="#000" textLength="59.56" lengthAdjust="spacingAndGlyphs">Stacking Model</text>
<path d="M224.1 811.12H240.6" stroke="#000" stroke-width="1.17" stroke-dasharray="4 2"/>
<text x="246.9" y="813.93" font-size="8.5" fill="#000" textLength="75.73" lengthAdjust="spacingAndGlyphs">Perfectly calibrated</text>
<text x="0" y="680.8" font-size="18" fill="#000">G</text>
<g clip-path="url(#cH)">
<polyline points="385.3,819.7 557.6,670.4" fill="none" stroke="#000" stroke-width="1.17" stroke-linejoin="round" stroke-dasharray="4.3 1.9"/>
<polyline points="390.3,785.51 445.09,759.23 462.49,751.17 481.62,798.95 497.3,792.23 529,689.21 545.71,745.05" fill="none" stroke="#ffff00" stroke-width="1.17" stroke-linejoin="round"/>
<path d="M387.8 783.01h5v5h-5zM442.59 756.73h5v5h-5zM459.99 748.67h5v5h-5zM479.12 796.45h5v5h-5zM494.8 789.73h5v5h-5zM526.5 686.71h5v5h-5z" fill="#ffff00"/>
<polyline points="390.47,770.43 413.38,759.68 424.58,819.7 443.88,719.97 459.04,670.4 480.07,742.06 499.19,777.45 512.29,819.7 533.65,719.82 557.6,748.04" fill="none" stroke="#000000" stroke-width="1.17" stroke-linejoin="round"/>
<path d="M410.88 757.18h5v5h-5zM422.08 817.2h5v5h-5zM441.38 717.47h5v5h-5zM496.69 774.95h5v5h-5zM509.79 817.2h5v5h-5zM531.15 717.32h5v5h-5z" fill="#000000"/>
<polyline points="396.5,819.7 412.01,765.95 428.38,772.52 463.52,766.4 478.69,802.83 494.54,704.74 516.94,745.05" fill="none" stroke="#ff00ff" stroke-width="1.17" stroke-linejoin="round"/>
<path d="M394 817.2h5v5h-5zM425.88 770.02h5v5h-5zM461.02 763.9h5v5h-5zM476.19 800.33h5v5h-5zM492.04 702.24h5v5h-5zM514.44 742.55h5v5h-5z" fill="#ff00ff"/>
<polyline points="388.06,769.68 406.67,789.84 425.79,755.65 442.5,789.39 461.28,730.12 478.69,769.83 499.02,763.56 510.39,760.73 532.79,756.99 553.81,756.99" fill="none" stroke="#ffa500" stroke-width="1.17" stroke-linejoin="round"/>
<path d="M385.56 767.18h5v5h-5zM404.17 787.34h5v5h-5zM423.29 753.15h5v5h-5zM440 786.89h5v5h-5zM458.78 727.62h5v5h-5zM476.19 767.33h5v5h-5zM496.52 761.06h5v5h-5zM507.89 758.23h5v5h-5zM530.29 754.49h5v5h-5z" fill="#ffa500"/>
<polyline points="412.87,783.12 429.06,802.98 443.37,747.29 463.01,784.32 494.54,714.89 510.39,745.05" fill="none" stroke="#800080" stroke-width="1.17" stroke-linejoin="round"/>
<path d="M410.37 780.62h5v5h-5zM426.56 800.48h5v5h-5zM440.87 744.79h5v5h-5zM460.51 781.82h5v5h-5zM492.04 712.39h5v5h-5zM507.89 742.55h5v5h-5z" fill="#800080"/>
<polyline points="385.82,784.32 424.58,778.79 450.43,741.62 457.32,793.42 482.65,786.11 492.3,740.57 519.69,719.82 527.1,729.97 561.05,746.54" fill="none" stroke="#0000ff" stroke-width="1.17" stroke-linejoin="round"/>
<path d="M383.32 781.82h5v5h-5zM422.08 776.29h5v5h-5zM447.93 739.12h5v5h-5zM454.82 790.92h5v5h-5zM480.15 783.61h5v5h-5zM489.8 738.07h5v5h-5zM517.19 717.32h5v5h-5zM524.6 727.47h5v5h-5z" fill="#0000ff"/>
<polyline points="397.53,785.51 412.87,782.82 428.38,784.32 445.09,762.97 461.8,779.99 480.93,754.01 496.78,727.28 513.15,736.54 526.24,670.4" fill="none" stroke="#008000" stroke-width="1.17" stroke-linejoin="round"/>
<path d="M395.03 783.01h5v5h-5zM410.37 780.32h5v5h-5zM425.88 781.82h5v5h-5zM442.59 760.47h5v5h-5zM459.3 777.49h5v5h-5zM478.43 751.51h5v5h-5zM494.28 724.78h5v5h-5zM510.65 734.04h5v5h-5z" fill="#008000"/>
<polyline points="390.3,770.28 411.66,764.46 429.58,783.12 447.33,782.08 463.52,730.12 478.69,730.12 498.5,769.83 514.7,794.32 533.65,782.08 550.36,724.15" fill="none" stroke="#ff0000" stroke-width="1.17" stroke-linejoin="round"/>
<path d="M387.8 767.78h5v5h-5zM409.16 761.96h5v5h-5zM427.08 780.62h5v5h-5zM444.83 779.58h5v5h-5zM461.02 727.62h5v5h-5zM476.19 727.62h5v5h-5zM496 767.33h5v5h-5zM512.2 791.82h5v5h-5zM531.15 779.58h5v5h-5z" fill="#ff0000"/>
<polyline points="386.33,774.16 556.74,751.47" fill="none" stroke="#00ffff" stroke-width="1.17" stroke-linejoin="round"/>
<path d="M383.83 771.66h5v5h-5zM554.24 748.97h5v5h-5z" fill="#00ffff"/>
<polyline points="396.5,789.39 409.94,777.9 429.06,764.16 447.33,769.83 463.52,773.12 479.89,744.45 496.09,756.99 514.7,700.26 529,745.05" fill="none" stroke="#a52a2a" stroke-width="1.17" stroke-linejoin="round"/>
<path d="M394 786.89h5v5h-5zM407.44 775.4h5v5h-5zM426.56 761.66h5v5h-5zM444.83 767.33h5v5h-5zM461.02 770.62h5v5h-5zM477.39 741.95h5v5h-5zM493.59 754.49h5v5h-5zM512.2 697.76h5v5h-5zM526.5 742.55h5v5h-5z" fill="#a52a2a"/>
<polyline points="401.5,819.7 412.87,769.68 429.06,778.79 444.4,778.19 462.49,759.68 482.13,763.56 496.09,759.68 513.15,745.05 529.86,700.26" fill="none" stroke="#ff1493" stroke-width="1.17" stroke-linejoin="round"/>
<path d="M399 817.2h5v5h-5zM410.37 767.18h5v5h-5zM426.56 776.29h5v5h-5zM441.9 775.69h5v5h-5zM459.99 757.18h5v5h-5zM479.63 761.06h5v5h-5zM493.59 757.18h5v5h-5zM510.65 742.55h5v5h-5zM527.36 697.76h5v5h-5z" fill="#ff1493"/>
</g>
<rect x="383.5" y="668.4" width="176.1" height="152.8" fill="none" stroke="#000" stroke-width="0.62"/>
<path d="M385.3 821.2v3.3M419.76 821.2v3.3M454.22 821.2v3.3M488.68 821.2v3.3M523.14 821.2v3.3M557.6 821.2v3.3M383.5 819.7h-3.3M383.5 789.84h-3.3M383.5 759.98h-3.3M383.5 730.12h-3.3M383.5 700.26h-3.3M383.5 670.4h-3.3" stroke="#000" stroke-width="0.62" fill="none"/>
<text x="379.1" y="832.92" font-size="8.5" fill="#000" textLength="12.4" lengthAdjust="spacingAndGlyphs">0.0</text>
<text x="413.56" y="832.92" font-size="8.5" fill="#000" textLength="12.4" lengthAdjust="spacingAndGlyphs">0.2</text>
<text x="448.02" y="832.92" font-size="8.5" fill="#000" textLength="12.4" lengthAdjust="spacingAndGlyphs">0.4</text>
<text x="482.48" y="832.92" font-size="8.5" fill="#000" textLength="12.4" lengthAdjust="spacingAndGlyphs">0.6</text>
<text x="516.94" y="832.92" font-size="8.5" fill="#000" textLength="12.4" lengthAdjust="spacingAndGlyphs">0.8</text>
<text x="551.4" y="832.92" font-size="8.5" fill="#000" textLength="12.4" lengthAdjust="spacingAndGlyphs">1.0</text>
<text x="365.07" y="822.54" font-size="8.5" fill="#000" textLength="12.4" lengthAdjust="spacingAndGlyphs">0.0</text>
<text x="365.07" y="792.68" font-size="8.5" fill="#000" textLength="12.4" lengthAdjust="spacingAndGlyphs">0.2</text>
<text x="365.07" y="762.82" font-size="8.5" fill="#000" textLength="12.4" lengthAdjust="spacingAndGlyphs">0.4</text>
<text x="365.07" y="732.96" font-size="8.5" fill="#000" textLength="12.4" lengthAdjust="spacingAndGlyphs">0.6</text>
<text x="365.07" y="703.1" font-size="8.5" fill="#000" textLength="12.4" lengthAdjust="spacingAndGlyphs">0.8</text>
<text x="365.07" y="673.24" font-size="8.5" fill="#000" textLength="12.4" lengthAdjust="spacingAndGlyphs">1.0</text>
<text x="419.52" y="842.9" font-size="8.5" fill="#000" textLength="104.06" lengthAdjust="spacingAndGlyphs">Mean Predicted Probability</text>
<text x="362" y="744.8" font-size="8.5" fill="#000" text-anchor="middle" textLength="77.75" lengthAdjust="spacingAndGlyphs" transform="rotate(-90 362 744.8)">Fraction of Positives</text>
<text x="400.11" y="663.9" font-size="10.2" fill="#000" textLength="142.88" lengthAdjust="spacingAndGlyphs">Calibration Curve on Test Data</text>
<rect x="568.3" y="677.9" width="115" height="140.4" rx="1.56" fill="#fff" fill-opacity="0.8" stroke="#cccccc" stroke-width="0.62"/>
<path d="M570.6 684.4H587.3" stroke="#ffff00" stroke-width="1.17"/>
<rect x="576.45" y="681.9" width="5" height="5" fill="#ffff00"/>
<text x="593.5" y="687.21" font-size="8.5" fill="#000" textLength="86.55" lengthAdjust="spacingAndGlyphs">Gaussian Naive Bayes</text>
<path d="M570.6 695.92H587.3" stroke="#000000" stroke-width="1.17"/>
<rect x="576.45" y="693.42" width="5" height="5" fill="#000000"/>
<text x="593.5" y="698.73" font-size="8.5" fill="#000" textLength="68.03" lengthAdjust="spacingAndGlyphs">GradientBoosting</text>
<path d="M570.6 707.44H587.3" stroke="#ff00ff" stroke-width="1.17"/>
<rect x="576.45" y="704.94" width="5" height="5" fill="#ff00ff"/>
<text x="593.5" y="710.25" font-size="8.5" fill="#000" textLength="40.9" lengthAdjust="spacingAndGlyphs">ExtraTrees</text>
<path d="M570.6 718.96H587.3" stroke="#ffa500" stroke-width="1.17"/>
<rect x="576.45" y="716.46" width="5" height="5" fill="#ffa500"/>
<text x="593.5" y="721.77" font-size="8.5" fill="#000" textLength="37.59" lengthAdjust="spacingAndGlyphs">LightGBM</text>
<path d="M570.6 730.48H587.3" stroke="#800080" stroke-width="1.17"/>
<rect x="576.45" y="727.98" width="5" height="5" fill="#800080"/>
<text x="593.5" y="733.29" font-size="8.5" fill="#000" textLength="17.02" lengthAdjust="spacingAndGlyphs">SVM</text>
<path d="M570.6 742H587.3" stroke="#0000ff" stroke-width="1.17"/>
<rect x="576.45" y="739.5" width="5" height="5" fill="#0000ff"/>
<text x="593.5" y="744.81" font-size="8.5" fill="#000" textLength="16.78" lengthAdjust="spacingAndGlyphs">KNN</text>
<path d="M570.6 753.52H587.3" stroke="#008000" stroke-width="1.17"/>
<rect x="576.45" y="751.02" width="5" height="5" fill="#008000"/>
<text x="593.5" y="756.33" font-size="8.5" fill="#000" textLength="74.82" lengthAdjust="spacingAndGlyphs">Logistic Regression</text>
<path d="M570.6 765.04H587.3" stroke="#ff0000" stroke-width="1.17"/>
<rect x="576.45" y="762.54" width="5" height="5" fill="#ff0000"/>
<text x="593.5" y="767.85" font-size="8.5" fill="#000" textLength="33.41" lengthAdjust="spacingAndGlyphs">XGBoost</text>
<path d="M570.6 776.56H587.3" stroke="#00ffff" stroke-width="1.17"/>
<rect x="576.45" y="774.06" width="5" height="5" fill="#00ffff"/>
<text x="593.5" y="779.37" font-size="8.5" fill="#000" textLength="51.94" lengthAdjust="spacingAndGlyphs">Decision Tree</text>
<path d="M570.6 788.08H587.3" stroke="#a52a2a" stroke-width="1.17"/>
<rect x="576.45" y="785.58" width="5" height="5" fill="#a52a2a"/>
<text x="593.5" y="790.89" font-size="8.5" fill="#000" textLength="58.71" lengthAdjust="spacingAndGlyphs">Random Forest</text>
<path d="M570.6 799.6H587.3" stroke="#ff1493" stroke-width="1.17"/>
<rect x="576.45" y="797.1" width="5" height="5" fill="#ff1493"/>
<text x="593.5" y="802.41" font-size="8.5" fill="#000" textLength="59.56" lengthAdjust="spacingAndGlyphs">Stacking Model</text>
<path d="M570.6 811.12H587.3" stroke="#000" stroke-width="1.17" stroke-dasharray="4 2"/>
<text x="593.5" y="813.93" font-size="8.5" fill="#000" textLength="75.73" lengthAdjust="spacingAndGlyphs">Perfectly calibrated</text>
<text x="346.5" y="680.8" font-size="18" fill="#000">H</text>
</svg>
</body></html>
